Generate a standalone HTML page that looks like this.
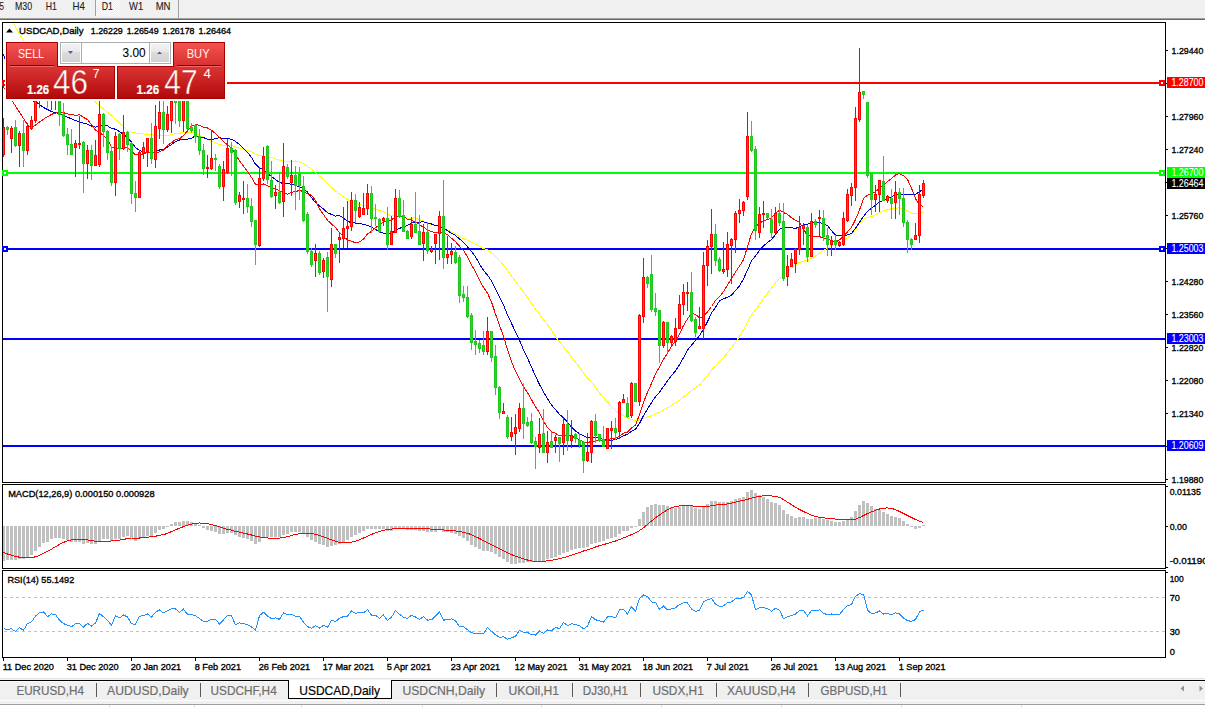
<!DOCTYPE html>
<html><head><meta charset="utf-8"><style>
html,body{margin:0;padding:0;background:#fff;}
svg{display:block;font-family:"Liberation Sans",sans-serif;}
</style></head><body>
<svg width="1205" height="708" viewBox="0 0 1205 708">
<defs>
<pattern id="chk" width="2" height="2" patternUnits="userSpaceOnUse"><rect width="2" height="2" fill="#f0f0f0"/><rect width="1" height="1" fill="#fafafa"/><rect x="1" y="1" width="1" height="1" fill="#fafafa"/></pattern>
<linearGradient id="tabg" x1="0" y1="0" x2="0" y2="1"><stop offset="0" stop-color="#f45252"/><stop offset="1" stop-color="#d83030"/></linearGradient>
<linearGradient id="prg" x1="0" y1="0" x2="0" y2="1"><stop offset="0" stop-color="#da3434"/><stop offset="1" stop-color="#b20a0a"/></linearGradient>
<linearGradient id="btg" x1="0" y1="0" x2="0" y2="1"><stop offset="0" stop-color="#f2f2f2"/><stop offset="0.45" stop-color="#e8e8e8"/><stop offset="0.46" stop-color="#dcdcdc"/><stop offset="1" stop-color="#d2d2d2"/></linearGradient>
<clipPath id="mainclip"><rect x="3" y="23" width="1162" height="459"/></clipPath>
<clipPath id="macdclip"><rect x="3" y="485" width="1162" height="83"/></clipPath>
<clipPath id="rsiclip"><rect x="3" y="571" width="1162" height="86"/></clipPath>
</defs>
<rect x="0" y="0" width="1205" height="708" fill="#ffffff"/>
<rect x="0" y="0" width="1205" height="18" fill="#f0f0f0"/>
<rect x="0" y="18" width="1205" height="1" fill="#a0a0a0"/>
<rect x="0" y="19" width="1205" height="1" fill="#696969"/>
<rect x="95" y="0" width="1" height="16" fill="#a0a0a0"/>
<rect x="178" y="0" width="1" height="18" fill="#a0a0a0"/>
<rect x="96" y="0" width="24" height="16" fill="url(#chk)"/>
<text x="-0.45" y="9.95" font-size="10.03" textLength="4.40" lengthAdjust="spacingAndGlyphs" fill="#202020" stroke="#202020" stroke-width="0.1">5</text>
<text x="15.05" y="9.95" font-size="10.03" textLength="17.10" lengthAdjust="spacingAndGlyphs" fill="#202020" stroke="#202020" stroke-width="0.1">M30</text>
<text x="45.85" y="9.95" font-size="10.03" textLength="11.10" lengthAdjust="spacingAndGlyphs" fill="#202020" stroke="#202020" stroke-width="0.1">H1</text>
<text x="72.55" y="9.95" font-size="10.03" textLength="12.40" lengthAdjust="spacingAndGlyphs" fill="#202020" stroke="#202020" stroke-width="0.1">H4</text>
<text x="101.75" y="9.95" font-size="10.03" textLength="11.20" lengthAdjust="spacingAndGlyphs" fill="#202020" stroke="#202020" stroke-width="0.1">D1</text>
<text x="129.05" y="9.95" font-size="10.03" textLength="14.10" lengthAdjust="spacingAndGlyphs" fill="#202020" stroke="#202020" stroke-width="0.1">W1</text>
<text x="155.65" y="9.95" font-size="10.03" textLength="14.90" lengthAdjust="spacingAndGlyphs" fill="#202020" stroke="#202020" stroke-width="0.1">MN</text>
<rect x="2" y="22" width="1164" height="461" fill="#000"/>
<rect x="3" y="23" width="1162" height="459" fill="#fff"/>
<rect x="2" y="484" width="1164" height="85" fill="#000"/>
<rect x="3" y="485" width="1162" height="83" fill="#fff"/>
<rect x="2" y="570" width="1164" height="88" fill="#000"/>
<rect x="3" y="571" width="1162" height="86" fill="#fff"/>
<g clip-path="url(#mainclip)">
<rect x="3" y="82" width="1162" height="2" fill="#ff0000"/>
<rect x="3" y="172" width="1162" height="2" fill="#00ff00"/>
<rect x="3" y="248" width="1162" height="2" fill="#0000ff"/>
<rect x="3" y="338" width="1162" height="2" fill="#0000ff"/>
<rect x="3" y="445" width="1162" height="2" fill="#0000ff"/>
</g>
<g clip-path="url(#mainclip)">
<polyline points="3.0,5.0 13.0,22.5 23.0,40.0 60.0,72.0 94.2,100.9 113.0,117.0 128.8,131.6 138.7,133.6 149.0,134.5 159.5,135.7 163.5,135.7 167.5,135.4 171.5,134.7 175.5,133.6 179.5,133.3 183.5,132.1 187.5,132.1 191.5,132.3 195.5,133.4 199.5,135.1 203.5,137.5 207.5,139.2 211.5,141.1 215.5,142.8 219.5,144.6 223.5,145.4 227.5,145.6 231.5,145.5 235.5,147.0 239.5,148.2 243.5,149.1 247.5,150.5 251.5,151.9 255.5,154.1 259.5,155.7 263.5,156.3 267.5,157.0 271.5,157.4 275.5,158.8 279.5,160.1 283.5,161.0 287.5,161.8 291.5,161.3 295.5,161.0 299.5,161.8 303.5,163.7 307.5,166.5 311.5,169.1 315.5,172.3 319.5,176.3 323.5,179.6 327.5,183.6 331.5,187.2 335.5,191.0 339.5,193.9 343.5,197.1 347.5,199.6 351.5,201.3 355.5,203.2 359.5,204.6 363.5,205.6 367.5,206.2 371.5,207.7 375.5,209.2 379.5,210.3 383.5,211.6 387.5,214.0 391.5,215.9 395.5,215.8 399.5,216.4 403.5,217.2 407.5,218.0 411.5,218.1 415.5,217.8 419.5,219.5 423.5,221.4 427.5,223.1 431.5,224.5 435.5,225.5 439.5,225.9 443.5,228.2 447.5,230.1 451.5,232.0 455.5,233.9 459.5,236.7 463.5,238.6 467.5,240.2 471.5,242.2 475.5,244.5 479.5,246.3 483.5,248.6 487.5,250.0 491.5,252.8 495.5,256.2 499.5,260.5 503.5,265.1 507.5,270.3 511.5,276.2 515.5,281.6 519.5,286.6 523.5,292.0 527.5,297.8 531.5,303.4 535.5,309.1 539.5,314.2 543.5,320.0 547.5,324.9 551.5,330.3 555.5,336.3 559.5,342.0 563.5,346.8 567.5,351.8 571.5,357.1 575.5,362.3 579.5,367.2 583.5,372.9 587.5,378.0 591.5,382.3 595.5,387.3 599.5,392.9 603.5,397.6 607.5,402.0 611.5,406.4 615.5,410.7 619.5,413.3 623.5,415.9 627.5,418.4 631.5,419.4 635.5,420.8 639.5,420.0 643.5,418.2 647.5,417.0 651.5,415.8 655.5,413.9 659.5,412.2 663.5,410.0 667.5,407.7 671.5,405.3 675.5,402.8 679.5,400.2 683.5,396.9 687.5,393.6 691.5,390.5 695.5,387.7 699.5,385.0 703.5,380.3 707.5,375.4 711.5,370.1 715.5,365.7 719.5,361.4 723.5,357.5 727.5,352.6 731.5,347.7 735.5,342.1 739.5,336.2 743.5,329.8 747.5,321.9 751.5,315.1 755.5,310.0 759.5,304.3 763.5,298.5 767.5,293.2 771.5,288.3 775.5,282.8 779.5,278.3 783.5,275.3 787.5,271.5 791.5,268.4 795.5,264.6 799.5,262.4 803.5,261.1 807.5,260.5 811.5,258.3 815.5,256.1 819.5,252.9 823.5,250.7 827.5,248.3 831.5,245.9 835.5,243.8 839.5,242.2 843.5,240.4 847.5,237.9 851.5,234.6 855.5,229.3 859.5,223.5 863.5,219.2 867.5,217.4 871.5,216.5 875.5,214.9 879.5,212.6 883.5,210.9 887.5,209.7 891.5,208.8 895.5,208.3 899.5,207.9 903.5,208.5 907.5,211.0 911.5,213.4 915.5,213.5 919.5,213.0 923.5,212.3" fill="none" stroke="#ffff00" stroke-width="1" shape-rendering="crispEdges"/>
<polyline points="3.0,54.0 20.0,94.0 32.4,100.7 37.0,102.6 43.4,107.5 51.8,111.7 61.0,114.2 73.0,119.6 83.5,123.1 87.5,124.2 91.5,126.0 95.5,127.2 99.5,125.8 103.5,125.7 107.5,125.8 111.5,128.4 115.5,129.2 119.5,131.7 123.5,134.2 127.5,137.5 131.5,142.0 135.5,147.4 139.5,150.4 143.5,152.0 147.5,152.1 151.5,152.8 155.5,151.5 159.5,150.0 163.5,149.3 167.5,147.0 171.5,144.6 175.5,141.6 179.5,140.0 183.5,139.3 187.5,139.1 191.5,138.1 195.5,135.9 199.5,136.6 203.5,137.6 207.5,139.3 211.5,139.9 215.5,138.3 219.5,137.8 223.5,138.5 227.5,138.6 231.5,139.2 235.5,141.4 239.5,144.6 243.5,148.7 247.5,152.4 251.5,157.4 255.5,164.2 259.5,167.8 263.5,169.5 267.5,173.3 271.5,176.5 275.5,179.5 279.5,182.6 283.5,183.4 287.5,183.8 291.5,184.1 295.5,185.4 299.5,186.7 303.5,188.3 307.5,192.2 311.5,197.7 315.5,202.5 319.5,205.9 323.5,209.0 327.5,212.7 331.5,214.5 335.5,216.1 339.5,215.7 343.5,218.1 347.5,221.5 351.5,222.5 355.5,223.1 359.5,223.8 363.5,224.1 367.5,225.4 371.5,227.4 375.5,229.4 379.5,231.6 383.5,233.2 387.5,234.4 391.5,233.5 395.5,230.3 399.5,228.5 403.5,226.6 407.5,225.5 411.5,223.0 415.5,222.5 419.5,222.1 423.5,221.8 427.5,222.9 431.5,224.0 435.5,225.7 439.5,225.9 443.5,228.3 447.5,230.5 451.5,233.3 455.5,235.4 459.5,239.0 463.5,242.2 467.5,246.8 471.5,251.5 475.5,256.8 479.5,264.0 483.5,270.4 487.5,275.1 491.5,280.8 495.5,288.6 499.5,297.1 503.5,305.1 507.5,314.8 511.5,323.4 515.5,331.9 519.5,340.2 523.5,350.0 527.5,358.0 531.5,367.0 535.5,376.2 539.5,384.5 543.5,391.9 547.5,398.8 551.5,405.0 555.5,409.6 559.5,414.3 563.5,417.9 567.5,422.2 571.5,427.1 575.5,431.0 579.5,433.7 583.5,435.9 587.5,437.9 591.5,437.2 595.5,437.4 599.5,438.0 603.5,439.8 607.5,440.1 611.5,440.2 615.5,439.7 619.5,437.6 623.5,435.9 627.5,434.2 631.5,431.4 635.5,429.3 639.5,423.5 643.5,415.6 647.5,408.9 651.5,402.6 655.5,396.7 659.5,392.3 663.5,386.5 667.5,380.9 671.5,375.4 675.5,371.0 679.5,364.7 683.5,357.7 687.5,350.3 691.5,345.1 695.5,340.6 699.5,335.5 703.5,329.0 707.5,321.7 711.5,313.1 715.5,307.2 719.5,301.0 723.5,298.8 727.5,297.2 731.5,295.1 735.5,290.5 739.5,285.8 743.5,278.9 747.5,270.1 751.5,260.9 755.5,255.8 759.5,250.4 763.5,246.0 767.5,242.5 771.5,239.6 775.5,234.5 779.5,229.3 783.5,227.0 787.5,227.1 791.5,227.7 795.5,228.4 799.5,226.8 803.5,224.7 807.5,224.1 811.5,223.0 815.5,222.2 819.5,222.4 823.5,223.7 827.5,225.6 831.5,230.6 835.5,235.1 839.5,235.7 843.5,235.9 847.5,235.0 851.5,233.6 855.5,228.2 859.5,222.4 863.5,216.4 867.5,211.4 871.5,208.3 875.5,205.2 879.5,201.9 883.5,200.6 887.5,199.2 891.5,196.6 895.5,195.3 899.5,194.0 903.5,194.3 907.5,194.5 911.5,194.5 915.5,194.2 919.5,191.8 923.5,189.0" fill="none" stroke="#0000cd" stroke-width="1" shape-rendering="crispEdges"/>
<polyline points="3.0,86.0 12.0,100.7 20.0,113.0 27.3,124.4 31.5,127.8 37.4,123.6 45.9,117.6 51.8,114.2 55.5,113.2 59.5,112.3 63.5,112.7 67.5,113.9 71.5,114.6 75.5,115.3 79.5,114.8 83.5,117.4 87.5,119.6 91.5,124.6 95.5,130.0 99.5,132.8 103.5,135.2 107.5,140.0 111.5,146.7 115.5,148.2 119.5,149.2 123.5,148.3 127.5,147.5 131.5,151.1 135.5,154.9 139.5,154.2 143.5,154.0 147.5,152.0 151.5,152.2 155.5,153.1 159.5,151.7 163.5,150.1 167.5,145.3 171.5,142.8 175.5,139.5 179.5,138.7 183.5,135.5 187.5,130.8 191.5,126.0 195.5,124.9 199.5,125.1 203.5,127.3 207.5,128.0 211.5,130.2 215.5,133.6 219.5,137.6 223.5,141.5 227.5,144.9 231.5,148.4 235.5,154.3 239.5,161.0 243.5,166.1 247.5,171.5 251.5,177.5 255.5,184.2 259.5,184.8 263.5,184.0 267.5,185.5 271.5,188.2 275.5,188.7 279.5,191.1 283.5,192.3 287.5,194.1 291.5,192.2 295.5,191.5 299.5,190.5 303.5,191.5 307.5,193.7 311.5,195.1 315.5,200.5 319.5,208.9 323.5,214.6 327.5,220.3 331.5,224.0 335.5,227.6 339.5,232.7 343.5,236.4 347.5,240.0 351.5,241.1 355.5,242.9 359.5,242.0 363.5,239.0 367.5,233.9 371.5,231.4 375.5,227.5 379.5,225.4 383.5,221.3 387.5,221.3 391.5,219.8 395.5,217.0 399.5,216.1 403.5,216.5 407.5,219.2 411.5,220.2 415.5,222.0 419.5,224.5 423.5,227.3 427.5,229.7 431.5,231.9 435.5,232.2 439.5,232.0 443.5,232.9 447.5,234.5 451.5,238.3 455.5,241.6 459.5,246.2 463.5,250.4 467.5,256.9 471.5,264.8 475.5,271.9 479.5,280.2 483.5,287.4 487.5,293.2 491.5,301.9 495.5,314.1 499.5,325.2 503.5,336.4 507.5,349.6 511.5,361.8 515.5,371.2 519.5,379.2 523.5,386.8 527.5,392.7 531.5,399.7 535.5,406.8 539.5,412.7 543.5,421.3 547.5,427.4 551.5,431.6 555.5,433.4 559.5,435.7 563.5,434.9 567.5,435.5 571.5,436.0 575.5,438.1 579.5,439.6 583.5,442.1 587.5,442.9 591.5,441.1 595.5,441.1 599.5,440.3 603.5,440.7 607.5,439.4 611.5,438.7 615.5,437.9 619.5,436.3 623.5,433.3 627.5,432.0 631.5,428.1 635.5,425.0 639.5,414.7 643.5,402.2 647.5,392.3 651.5,383.3 655.5,374.1 659.5,366.9 663.5,359.3 667.5,353.2 671.5,346.3 675.5,341.1 679.5,334.3 683.5,325.5 687.5,318.9 691.5,313.2 695.5,314.3 699.5,317.8 703.5,316.5 707.5,312.0 711.5,306.5 715.5,300.4 719.5,296.7 723.5,291.5 727.5,285.0 731.5,278.6 735.5,272.0 739.5,266.2 743.5,259.8 747.5,246.7 751.5,233.7 755.5,226.9 759.5,223.2 763.5,220.8 767.5,219.6 771.5,217.6 775.5,213.5 779.5,210.1 783.5,212.5 787.5,214.4 791.5,217.7 795.5,220.5 799.5,222.3 803.5,228.7 807.5,236.2 811.5,235.7 815.5,236.4 819.5,236.7 823.5,238.0 827.5,238.8 831.5,240.8 835.5,242.4 839.5,239.8 843.5,236.4 847.5,231.8 851.5,227.4 855.5,219.6 859.5,210.1 863.5,198.5 867.5,195.2 871.5,193.4 875.5,191.8 879.5,187.9 883.5,184.7 887.5,181.6 891.5,178.6 895.5,175.0 899.5,173.6 903.5,175.6 907.5,179.3 911.5,188.2 915.5,198.5 919.5,205.6 923.5,206.2" fill="none" stroke="#ff0000" stroke-width="1" shape-rendering="crispEdges"/>
</g>
<g clip-path="url(#mainclip)" shape-rendering="crispEdges">
<rect x="3" y="118" width="1" height="39" fill="#ff0000"/>
<rect x="2" y="127" width="3" height="28" fill="#ff0000"/>
<rect x="3" y="128" width="1" height="26" fill="#ff4500"/>
<rect x="7" y="126" width="1" height="9" fill="#2ecb2e"/>
<rect x="6" y="127" width="3" height="3" fill="#1fc71f"/>
<rect x="7" y="128" width="1" height="1" fill="#32cd32"/>
<rect x="11" y="126" width="1" height="27" fill="#ff0000"/>
<rect x="10" y="128" width="3" height="11" fill="#ff0000"/>
<rect x="11" y="129" width="1" height="9" fill="#ff4500"/>
<rect x="15" y="120" width="1" height="27" fill="#2ecb2e"/>
<rect x="14" y="127" width="3" height="19" fill="#1fc71f"/>
<rect x="15" y="128" width="1" height="17" fill="#32cd32"/>
<rect x="19" y="131" width="1" height="36" fill="#ff0000"/>
<rect x="18" y="133" width="3" height="13" fill="#ff0000"/>
<rect x="19" y="134" width="1" height="11" fill="#ff4500"/>
<rect x="23" y="120" width="1" height="47" fill="#2ecb2e"/>
<rect x="22" y="133" width="3" height="18" fill="#1fc71f"/>
<rect x="23" y="134" width="1" height="16" fill="#32cd32"/>
<rect x="27" y="123" width="1" height="32" fill="#ff0000"/>
<rect x="26" y="126" width="3" height="25" fill="#ff0000"/>
<rect x="27" y="127" width="1" height="23" fill="#ff4500"/>
<rect x="31" y="116" width="1" height="14" fill="#ff0000"/>
<rect x="30" y="120" width="3" height="9" fill="#ff0000"/>
<rect x="31" y="121" width="1" height="7" fill="#ff4500"/>
<rect x="35" y="90" width="1" height="33" fill="#ff0000"/>
<rect x="34" y="95" width="3" height="26" fill="#ff0000"/>
<rect x="35" y="96" width="1" height="24" fill="#ff4500"/>
<rect x="39" y="75" width="1" height="33" fill="#ff0000"/>
<rect x="38" y="80" width="3" height="16" fill="#ff0000"/>
<rect x="39" y="81" width="1" height="14" fill="#ff4500"/>
<rect x="43" y="70" width="1" height="26" fill="#ff0000"/>
<rect x="42" y="75" width="3" height="16" fill="#ff0000"/>
<rect x="43" y="76" width="1" height="14" fill="#ff4500"/>
<rect x="47" y="72" width="1" height="36" fill="#2ecb2e"/>
<rect x="46" y="78" width="3" height="20" fill="#1fc71f"/>
<rect x="47" y="79" width="1" height="18" fill="#32cd32"/>
<rect x="51" y="80" width="1" height="30" fill="#ff0000"/>
<rect x="50" y="85" width="3" height="14" fill="#ff0000"/>
<rect x="51" y="86" width="1" height="12" fill="#ff4500"/>
<rect x="55" y="80" width="1" height="30" fill="#ff0000"/>
<rect x="54" y="88" width="3" height="10" fill="#ff0000"/>
<rect x="55" y="89" width="1" height="8" fill="#ff4500"/>
<rect x="59" y="85" width="1" height="41" fill="#2ecb2e"/>
<rect x="58" y="90" width="3" height="25" fill="#1fc71f"/>
<rect x="59" y="91" width="1" height="23" fill="#32cd32"/>
<rect x="63" y="103" width="1" height="34" fill="#2ecb2e"/>
<rect x="62" y="114" width="3" height="22" fill="#1fc71f"/>
<rect x="63" y="115" width="1" height="20" fill="#32cd32"/>
<rect x="67" y="128" width="1" height="27" fill="#2ecb2e"/>
<rect x="66" y="134" width="3" height="11" fill="#1fc71f"/>
<rect x="67" y="135" width="1" height="9" fill="#32cd32"/>
<rect x="71" y="129" width="1" height="26" fill="#2ecb2e"/>
<rect x="70" y="144" width="3" height="11" fill="#1fc71f"/>
<rect x="71" y="145" width="1" height="9" fill="#32cd32"/>
<rect x="75" y="140" width="1" height="37" fill="#ff0000"/>
<rect x="74" y="143" width="3" height="5" fill="#ff0000"/>
<rect x="75" y="144" width="1" height="3" fill="#ff4500"/>
<rect x="79" y="116" width="1" height="33" fill="#ff0000"/>
<rect x="78" y="143" width="3" height="2" fill="#ff0000"/>
<rect x="83" y="141" width="1" height="52" fill="#2ecb2e"/>
<rect x="82" y="142" width="3" height="22" fill="#1fc71f"/>
<rect x="83" y="143" width="1" height="20" fill="#32cd32"/>
<rect x="87" y="145" width="1" height="34" fill="#ff0000"/>
<rect x="86" y="150" width="3" height="14" fill="#ff0000"/>
<rect x="87" y="151" width="1" height="12" fill="#ff4500"/>
<rect x="91" y="145" width="1" height="35" fill="#2ecb2e"/>
<rect x="90" y="150" width="3" height="16" fill="#1fc71f"/>
<rect x="91" y="151" width="1" height="14" fill="#32cd32"/>
<rect x="95" y="140" width="1" height="26" fill="#ff0000"/>
<rect x="94" y="155" width="3" height="11" fill="#ff0000"/>
<rect x="95" y="156" width="1" height="9" fill="#ff4500"/>
<rect x="99" y="101" width="1" height="66" fill="#ff0000"/>
<rect x="98" y="114" width="3" height="51" fill="#ff0000"/>
<rect x="99" y="115" width="1" height="49" fill="#ff4500"/>
<rect x="103" y="113" width="1" height="34" fill="#2ecb2e"/>
<rect x="102" y="114" width="3" height="18" fill="#1fc71f"/>
<rect x="103" y="115" width="1" height="16" fill="#32cd32"/>
<rect x="107" y="130" width="1" height="30" fill="#2ecb2e"/>
<rect x="106" y="131" width="3" height="22" fill="#1fc71f"/>
<rect x="107" y="132" width="1" height="20" fill="#32cd32"/>
<rect x="111" y="146" width="1" height="40" fill="#2ecb2e"/>
<rect x="110" y="151" width="3" height="32" fill="#1fc71f"/>
<rect x="111" y="152" width="1" height="30" fill="#32cd32"/>
<rect x="115" y="132" width="1" height="64" fill="#ff0000"/>
<rect x="114" y="136" width="3" height="47" fill="#ff0000"/>
<rect x="115" y="137" width="1" height="45" fill="#ff4500"/>
<rect x="119" y="133" width="1" height="27" fill="#2ecb2e"/>
<rect x="118" y="134" width="3" height="15" fill="#1fc71f"/>
<rect x="119" y="135" width="1" height="13" fill="#32cd32"/>
<rect x="123" y="115" width="1" height="35" fill="#ff0000"/>
<rect x="122" y="132" width="3" height="17" fill="#ff0000"/>
<rect x="123" y="133" width="1" height="15" fill="#ff4500"/>
<rect x="127" y="131" width="1" height="21" fill="#2ecb2e"/>
<rect x="126" y="132" width="3" height="13" fill="#1fc71f"/>
<rect x="127" y="133" width="1" height="11" fill="#32cd32"/>
<rect x="131" y="142" width="1" height="62" fill="#2ecb2e"/>
<rect x="130" y="143" width="3" height="51" fill="#1fc71f"/>
<rect x="131" y="144" width="1" height="49" fill="#32cd32"/>
<rect x="135" y="181" width="1" height="31" fill="#2ecb2e"/>
<rect x="134" y="193" width="3" height="5" fill="#1fc71f"/>
<rect x="135" y="194" width="1" height="3" fill="#32cd32"/>
<rect x="139" y="150" width="1" height="48" fill="#ff0000"/>
<rect x="138" y="152" width="3" height="46" fill="#ff0000"/>
<rect x="139" y="153" width="1" height="44" fill="#ff4500"/>
<rect x="143" y="142" width="1" height="17" fill="#ff0000"/>
<rect x="142" y="147" width="3" height="7" fill="#ff0000"/>
<rect x="143" y="148" width="1" height="5" fill="#ff4500"/>
<rect x="147" y="138" width="1" height="29" fill="#ff0000"/>
<rect x="146" y="138" width="3" height="14" fill="#ff0000"/>
<rect x="147" y="139" width="1" height="12" fill="#ff4500"/>
<rect x="151" y="123" width="1" height="41" fill="#2ecb2e"/>
<rect x="150" y="138" width="3" height="21" fill="#1fc71f"/>
<rect x="151" y="139" width="1" height="19" fill="#32cd32"/>
<rect x="155" y="105" width="1" height="63" fill="#ff0000"/>
<rect x="154" y="126" width="3" height="34" fill="#ff0000"/>
<rect x="155" y="127" width="1" height="32" fill="#ff4500"/>
<rect x="159" y="101" width="1" height="38" fill="#ff0000"/>
<rect x="158" y="112" width="3" height="17" fill="#ff0000"/>
<rect x="159" y="113" width="1" height="15" fill="#ff4500"/>
<rect x="163" y="101" width="1" height="43" fill="#2ecb2e"/>
<rect x="162" y="112" width="3" height="18" fill="#1fc71f"/>
<rect x="163" y="113" width="1" height="16" fill="#32cd32"/>
<rect x="167" y="106" width="1" height="26" fill="#ff0000"/>
<rect x="166" y="114" width="3" height="16" fill="#ff0000"/>
<rect x="167" y="115" width="1" height="14" fill="#ff4500"/>
<rect x="171" y="90" width="1" height="43" fill="#ff0000"/>
<rect x="170" y="101" width="3" height="20" fill="#ff0000"/>
<rect x="171" y="102" width="1" height="18" fill="#ff4500"/>
<rect x="175" y="85" width="1" height="39" fill="#2ecb2e"/>
<rect x="174" y="100" width="3" height="3" fill="#1fc71f"/>
<rect x="175" y="101" width="1" height="1" fill="#32cd32"/>
<rect x="179" y="90" width="1" height="37" fill="#2ecb2e"/>
<rect x="178" y="100" width="3" height="21" fill="#1fc71f"/>
<rect x="179" y="101" width="1" height="19" fill="#32cd32"/>
<rect x="183" y="85" width="1" height="47" fill="#ff0000"/>
<rect x="182" y="100" width="3" height="21" fill="#ff0000"/>
<rect x="183" y="101" width="1" height="19" fill="#ff4500"/>
<rect x="187" y="90" width="1" height="40" fill="#2ecb2e"/>
<rect x="186" y="95" width="3" height="34" fill="#1fc71f"/>
<rect x="187" y="96" width="1" height="32" fill="#32cd32"/>
<rect x="191" y="123" width="1" height="10" fill="#2ecb2e"/>
<rect x="190" y="127" width="3" height="4" fill="#1fc71f"/>
<rect x="191" y="128" width="1" height="2" fill="#32cd32"/>
<rect x="195" y="124" width="1" height="19" fill="#2ecb2e"/>
<rect x="194" y="125" width="3" height="12" fill="#1fc71f"/>
<rect x="195" y="126" width="1" height="10" fill="#32cd32"/>
<rect x="199" y="129" width="1" height="26" fill="#2ecb2e"/>
<rect x="198" y="136" width="3" height="15" fill="#1fc71f"/>
<rect x="199" y="137" width="1" height="13" fill="#32cd32"/>
<rect x="203" y="144" width="1" height="31" fill="#2ecb2e"/>
<rect x="202" y="150" width="3" height="19" fill="#1fc71f"/>
<rect x="203" y="151" width="1" height="17" fill="#32cd32"/>
<rect x="207" y="155" width="1" height="23" fill="#ff0000"/>
<rect x="206" y="167" width="3" height="2" fill="#ff0000"/>
<rect x="211" y="131" width="1" height="39" fill="#ff0000"/>
<rect x="210" y="158" width="3" height="11" fill="#ff0000"/>
<rect x="211" y="159" width="1" height="9" fill="#ff4500"/>
<rect x="215" y="154" width="1" height="17" fill="#2ecb2e"/>
<rect x="214" y="158" width="3" height="2" fill="#1fc71f"/>
<rect x="219" y="164" width="1" height="25" fill="#2ecb2e"/>
<rect x="218" y="166" width="3" height="21" fill="#1fc71f"/>
<rect x="219" y="167" width="1" height="19" fill="#32cd32"/>
<rect x="223" y="161" width="1" height="40" fill="#ff0000"/>
<rect x="222" y="169" width="3" height="18" fill="#ff0000"/>
<rect x="223" y="170" width="1" height="16" fill="#ff4500"/>
<rect x="227" y="139" width="1" height="35" fill="#ff0000"/>
<rect x="226" y="148" width="3" height="25" fill="#ff0000"/>
<rect x="227" y="149" width="1" height="23" fill="#ff4500"/>
<rect x="231" y="142" width="1" height="34" fill="#2ecb2e"/>
<rect x="230" y="148" width="3" height="5" fill="#1fc71f"/>
<rect x="231" y="149" width="1" height="3" fill="#32cd32"/>
<rect x="235" y="149" width="1" height="56" fill="#2ecb2e"/>
<rect x="234" y="150" width="3" height="53" fill="#1fc71f"/>
<rect x="235" y="151" width="1" height="51" fill="#32cd32"/>
<rect x="239" y="192" width="1" height="16" fill="#ff0000"/>
<rect x="238" y="195" width="3" height="7" fill="#ff0000"/>
<rect x="239" y="196" width="1" height="5" fill="#ff4500"/>
<rect x="243" y="181" width="1" height="33" fill="#ff0000"/>
<rect x="242" y="198" width="3" height="2" fill="#ff0000"/>
<rect x="247" y="184" width="1" height="29" fill="#2ecb2e"/>
<rect x="246" y="198" width="3" height="9" fill="#1fc71f"/>
<rect x="247" y="199" width="1" height="7" fill="#32cd32"/>
<rect x="251" y="198" width="1" height="29" fill="#2ecb2e"/>
<rect x="250" y="206" width="3" height="16" fill="#1fc71f"/>
<rect x="251" y="207" width="1" height="14" fill="#32cd32"/>
<rect x="255" y="220" width="1" height="45" fill="#2ecb2e"/>
<rect x="254" y="220" width="3" height="25" fill="#1fc71f"/>
<rect x="255" y="221" width="1" height="23" fill="#32cd32"/>
<rect x="259" y="167" width="1" height="80" fill="#ff0000"/>
<rect x="258" y="178" width="3" height="68" fill="#ff0000"/>
<rect x="259" y="179" width="1" height="66" fill="#ff4500"/>
<rect x="263" y="147" width="1" height="34" fill="#ff0000"/>
<rect x="262" y="156" width="3" height="23" fill="#ff0000"/>
<rect x="263" y="157" width="1" height="21" fill="#ff4500"/>
<rect x="267" y="145" width="1" height="39" fill="#2ecb2e"/>
<rect x="266" y="146" width="3" height="34" fill="#1fc71f"/>
<rect x="267" y="147" width="1" height="32" fill="#32cd32"/>
<rect x="271" y="161" width="1" height="37" fill="#2ecb2e"/>
<rect x="270" y="180" width="3" height="17" fill="#1fc71f"/>
<rect x="271" y="181" width="1" height="15" fill="#32cd32"/>
<rect x="275" y="185" width="1" height="24" fill="#ff0000"/>
<rect x="274" y="192" width="3" height="4" fill="#ff0000"/>
<rect x="275" y="193" width="1" height="2" fill="#ff4500"/>
<rect x="279" y="172" width="1" height="32" fill="#2ecb2e"/>
<rect x="278" y="192" width="3" height="11" fill="#1fc71f"/>
<rect x="279" y="193" width="1" height="9" fill="#32cd32"/>
<rect x="283" y="143" width="1" height="74" fill="#ff0000"/>
<rect x="282" y="166" width="3" height="36" fill="#ff0000"/>
<rect x="283" y="167" width="1" height="34" fill="#ff4500"/>
<rect x="287" y="164" width="1" height="15" fill="#2ecb2e"/>
<rect x="286" y="167" width="3" height="10" fill="#1fc71f"/>
<rect x="287" y="168" width="1" height="8" fill="#32cd32"/>
<rect x="291" y="160" width="1" height="36" fill="#ff0000"/>
<rect x="290" y="175" width="3" height="8" fill="#ff0000"/>
<rect x="291" y="176" width="1" height="6" fill="#ff4500"/>
<rect x="295" y="166" width="1" height="44" fill="#2ecb2e"/>
<rect x="294" y="175" width="3" height="11" fill="#1fc71f"/>
<rect x="295" y="176" width="1" height="9" fill="#32cd32"/>
<rect x="299" y="167" width="1" height="33" fill="#2ecb2e"/>
<rect x="298" y="174" width="3" height="12" fill="#1fc71f"/>
<rect x="299" y="175" width="1" height="10" fill="#32cd32"/>
<rect x="303" y="176" width="1" height="46" fill="#2ecb2e"/>
<rect x="302" y="186" width="3" height="35" fill="#1fc71f"/>
<rect x="303" y="187" width="1" height="33" fill="#32cd32"/>
<rect x="307" y="212" width="1" height="42" fill="#2ecb2e"/>
<rect x="306" y="214" width="3" height="38" fill="#1fc71f"/>
<rect x="307" y="215" width="1" height="36" fill="#32cd32"/>
<rect x="311" y="248" width="1" height="19" fill="#2ecb2e"/>
<rect x="310" y="251" width="3" height="14" fill="#1fc71f"/>
<rect x="311" y="252" width="1" height="12" fill="#32cd32"/>
<rect x="315" y="244" width="1" height="33" fill="#ff0000"/>
<rect x="314" y="253" width="3" height="8" fill="#ff0000"/>
<rect x="315" y="254" width="1" height="6" fill="#ff4500"/>
<rect x="319" y="251" width="1" height="24" fill="#2ecb2e"/>
<rect x="318" y="253" width="3" height="20" fill="#1fc71f"/>
<rect x="319" y="254" width="1" height="18" fill="#32cd32"/>
<rect x="323" y="258" width="1" height="20" fill="#ff0000"/>
<rect x="322" y="260" width="3" height="12" fill="#ff0000"/>
<rect x="323" y="261" width="1" height="10" fill="#ff4500"/>
<rect x="327" y="252" width="1" height="60" fill="#2ecb2e"/>
<rect x="326" y="257" width="3" height="20" fill="#1fc71f"/>
<rect x="327" y="258" width="1" height="18" fill="#32cd32"/>
<rect x="331" y="228" width="1" height="59" fill="#ff0000"/>
<rect x="330" y="244" width="3" height="36" fill="#ff0000"/>
<rect x="331" y="245" width="1" height="34" fill="#ff4500"/>
<rect x="335" y="244" width="1" height="14" fill="#2ecb2e"/>
<rect x="334" y="244" width="3" height="10" fill="#1fc71f"/>
<rect x="335" y="245" width="1" height="8" fill="#32cd32"/>
<rect x="339" y="232" width="1" height="31" fill="#ff0000"/>
<rect x="338" y="237" width="3" height="3" fill="#ff0000"/>
<rect x="339" y="238" width="1" height="1" fill="#ff4500"/>
<rect x="343" y="207" width="1" height="41" fill="#ff0000"/>
<rect x="342" y="228" width="3" height="11" fill="#ff0000"/>
<rect x="343" y="229" width="1" height="9" fill="#ff4500"/>
<rect x="347" y="201" width="1" height="47" fill="#ff0000"/>
<rect x="346" y="226" width="3" height="3" fill="#ff0000"/>
<rect x="347" y="227" width="1" height="1" fill="#ff4500"/>
<rect x="351" y="192" width="1" height="39" fill="#ff0000"/>
<rect x="350" y="200" width="3" height="27" fill="#ff0000"/>
<rect x="351" y="201" width="1" height="25" fill="#ff4500"/>
<rect x="355" y="194" width="1" height="29" fill="#2ecb2e"/>
<rect x="354" y="200" width="3" height="11" fill="#1fc71f"/>
<rect x="355" y="201" width="1" height="9" fill="#32cd32"/>
<rect x="359" y="202" width="1" height="16" fill="#ff0000"/>
<rect x="358" y="207" width="3" height="10" fill="#ff0000"/>
<rect x="359" y="208" width="1" height="8" fill="#ff4500"/>
<rect x="363" y="193" width="1" height="22" fill="#ff0000"/>
<rect x="362" y="208" width="3" height="7" fill="#ff0000"/>
<rect x="363" y="209" width="1" height="5" fill="#ff4500"/>
<rect x="367" y="184" width="1" height="31" fill="#ff0000"/>
<rect x="366" y="193" width="3" height="16" fill="#ff0000"/>
<rect x="367" y="194" width="1" height="14" fill="#ff4500"/>
<rect x="371" y="186" width="1" height="47" fill="#2ecb2e"/>
<rect x="370" y="193" width="3" height="26" fill="#1fc71f"/>
<rect x="371" y="194" width="1" height="24" fill="#32cd32"/>
<rect x="375" y="204" width="1" height="22" fill="#2ecb2e"/>
<rect x="374" y="217" width="3" height="2" fill="#1fc71f"/>
<rect x="379" y="218" width="1" height="15" fill="#2ecb2e"/>
<rect x="378" y="219" width="3" height="13" fill="#1fc71f"/>
<rect x="379" y="220" width="1" height="11" fill="#32cd32"/>
<rect x="383" y="217" width="1" height="9" fill="#ff0000"/>
<rect x="382" y="218" width="3" height="3" fill="#ff0000"/>
<rect x="383" y="219" width="1" height="1" fill="#ff4500"/>
<rect x="387" y="207" width="1" height="43" fill="#2ecb2e"/>
<rect x="386" y="218" width="3" height="27" fill="#1fc71f"/>
<rect x="387" y="219" width="1" height="25" fill="#32cd32"/>
<rect x="391" y="216" width="1" height="29" fill="#ff0000"/>
<rect x="390" y="231" width="3" height="14" fill="#ff0000"/>
<rect x="391" y="232" width="1" height="12" fill="#ff4500"/>
<rect x="395" y="189" width="1" height="44" fill="#ff0000"/>
<rect x="394" y="198" width="3" height="35" fill="#ff0000"/>
<rect x="395" y="199" width="1" height="33" fill="#ff4500"/>
<rect x="399" y="190" width="1" height="28" fill="#2ecb2e"/>
<rect x="398" y="198" width="3" height="19" fill="#1fc71f"/>
<rect x="399" y="199" width="1" height="17" fill="#32cd32"/>
<rect x="403" y="200" width="1" height="32" fill="#2ecb2e"/>
<rect x="402" y="215" width="3" height="17" fill="#1fc71f"/>
<rect x="403" y="216" width="1" height="15" fill="#32cd32"/>
<rect x="407" y="230" width="1" height="9" fill="#2ecb2e"/>
<rect x="406" y="231" width="3" height="8" fill="#1fc71f"/>
<rect x="407" y="232" width="1" height="6" fill="#32cd32"/>
<rect x="411" y="217" width="1" height="22" fill="#ff0000"/>
<rect x="410" y="224" width="3" height="13" fill="#ff0000"/>
<rect x="411" y="225" width="1" height="11" fill="#ff4500"/>
<rect x="415" y="192" width="1" height="41" fill="#2ecb2e"/>
<rect x="414" y="224" width="3" height="9" fill="#1fc71f"/>
<rect x="415" y="225" width="1" height="7" fill="#32cd32"/>
<rect x="419" y="215" width="1" height="30" fill="#2ecb2e"/>
<rect x="418" y="231" width="3" height="14" fill="#1fc71f"/>
<rect x="419" y="232" width="1" height="12" fill="#32cd32"/>
<rect x="423" y="224" width="1" height="37" fill="#ff0000"/>
<rect x="422" y="232" width="3" height="12" fill="#ff0000"/>
<rect x="423" y="233" width="1" height="10" fill="#ff4500"/>
<rect x="427" y="222" width="1" height="32" fill="#2ecb2e"/>
<rect x="426" y="232" width="3" height="19" fill="#1fc71f"/>
<rect x="427" y="233" width="1" height="17" fill="#32cd32"/>
<rect x="431" y="246" width="1" height="7" fill="#ff0000"/>
<rect x="430" y="249" width="3" height="3" fill="#ff0000"/>
<rect x="431" y="250" width="1" height="1" fill="#ff4500"/>
<rect x="435" y="234" width="1" height="30" fill="#ff0000"/>
<rect x="434" y="234" width="3" height="10" fill="#ff0000"/>
<rect x="435" y="235" width="1" height="8" fill="#ff4500"/>
<rect x="439" y="211" width="1" height="49" fill="#ff0000"/>
<rect x="438" y="216" width="3" height="18" fill="#ff0000"/>
<rect x="439" y="217" width="1" height="16" fill="#ff4500"/>
<rect x="443" y="180" width="1" height="89" fill="#2ecb2e"/>
<rect x="442" y="216" width="3" height="42" fill="#1fc71f"/>
<rect x="443" y="217" width="1" height="40" fill="#32cd32"/>
<rect x="447" y="236" width="1" height="28" fill="#ff0000"/>
<rect x="446" y="254" width="3" height="4" fill="#ff0000"/>
<rect x="447" y="255" width="1" height="2" fill="#ff4500"/>
<rect x="451" y="243" width="1" height="21" fill="#ff0000"/>
<rect x="450" y="251" width="3" height="4" fill="#ff0000"/>
<rect x="451" y="252" width="1" height="2" fill="#ff4500"/>
<rect x="455" y="246" width="1" height="18" fill="#2ecb2e"/>
<rect x="454" y="252" width="3" height="11" fill="#1fc71f"/>
<rect x="455" y="253" width="1" height="9" fill="#32cd32"/>
<rect x="459" y="255" width="1" height="48" fill="#2ecb2e"/>
<rect x="458" y="257" width="3" height="39" fill="#1fc71f"/>
<rect x="459" y="258" width="1" height="37" fill="#32cd32"/>
<rect x="463" y="286" width="1" height="16" fill="#2ecb2e"/>
<rect x="462" y="294" width="3" height="4" fill="#1fc71f"/>
<rect x="463" y="295" width="1" height="2" fill="#32cd32"/>
<rect x="467" y="286" width="1" height="32" fill="#2ecb2e"/>
<rect x="466" y="297" width="3" height="20" fill="#1fc71f"/>
<rect x="467" y="298" width="1" height="18" fill="#32cd32"/>
<rect x="471" y="313" width="1" height="37" fill="#2ecb2e"/>
<rect x="470" y="315" width="3" height="28" fill="#1fc71f"/>
<rect x="471" y="316" width="1" height="26" fill="#32cd32"/>
<rect x="475" y="330" width="1" height="25" fill="#2ecb2e"/>
<rect x="474" y="341" width="3" height="4" fill="#1fc71f"/>
<rect x="475" y="342" width="1" height="2" fill="#32cd32"/>
<rect x="479" y="340" width="1" height="13" fill="#2ecb2e"/>
<rect x="478" y="343" width="3" height="6" fill="#1fc71f"/>
<rect x="479" y="344" width="1" height="4" fill="#32cd32"/>
<rect x="483" y="331" width="1" height="24" fill="#2ecb2e"/>
<rect x="482" y="345" width="3" height="7" fill="#1fc71f"/>
<rect x="483" y="346" width="1" height="5" fill="#32cd32"/>
<rect x="487" y="317" width="1" height="38" fill="#ff0000"/>
<rect x="486" y="331" width="3" height="21" fill="#ff0000"/>
<rect x="487" y="332" width="1" height="19" fill="#ff4500"/>
<rect x="491" y="331" width="1" height="31" fill="#2ecb2e"/>
<rect x="490" y="331" width="3" height="27" fill="#1fc71f"/>
<rect x="491" y="332" width="1" height="25" fill="#32cd32"/>
<rect x="495" y="345" width="1" height="50" fill="#2ecb2e"/>
<rect x="494" y="356" width="3" height="32" fill="#1fc71f"/>
<rect x="495" y="357" width="1" height="30" fill="#32cd32"/>
<rect x="499" y="386" width="1" height="33" fill="#2ecb2e"/>
<rect x="498" y="387" width="3" height="26" fill="#1fc71f"/>
<rect x="499" y="388" width="1" height="24" fill="#32cd32"/>
<rect x="503" y="403" width="1" height="11" fill="#ff0000"/>
<rect x="502" y="411" width="3" height="3" fill="#ff0000"/>
<rect x="503" y="412" width="1" height="1" fill="#ff4500"/>
<rect x="507" y="415" width="1" height="24" fill="#2ecb2e"/>
<rect x="506" y="417" width="3" height="20" fill="#1fc71f"/>
<rect x="507" y="418" width="1" height="18" fill="#32cd32"/>
<rect x="511" y="417" width="1" height="24" fill="#ff0000"/>
<rect x="510" y="432" width="3" height="5" fill="#ff0000"/>
<rect x="511" y="433" width="1" height="3" fill="#ff4500"/>
<rect x="515" y="414" width="1" height="41" fill="#ff0000"/>
<rect x="514" y="427" width="3" height="7" fill="#ff0000"/>
<rect x="515" y="428" width="1" height="5" fill="#ff4500"/>
<rect x="519" y="403" width="1" height="29" fill="#ff0000"/>
<rect x="518" y="408" width="3" height="21" fill="#ff0000"/>
<rect x="519" y="409" width="1" height="19" fill="#ff4500"/>
<rect x="523" y="383" width="1" height="56" fill="#2ecb2e"/>
<rect x="522" y="408" width="3" height="16" fill="#1fc71f"/>
<rect x="523" y="409" width="1" height="14" fill="#32cd32"/>
<rect x="527" y="417" width="1" height="10" fill="#2ecb2e"/>
<rect x="526" y="422" width="3" height="4" fill="#1fc71f"/>
<rect x="527" y="423" width="1" height="2" fill="#32cd32"/>
<rect x="531" y="413" width="1" height="31" fill="#2ecb2e"/>
<rect x="530" y="421" width="3" height="22" fill="#1fc71f"/>
<rect x="531" y="422" width="1" height="20" fill="#32cd32"/>
<rect x="535" y="437" width="1" height="32" fill="#2ecb2e"/>
<rect x="534" y="441" width="3" height="6" fill="#1fc71f"/>
<rect x="535" y="442" width="1" height="4" fill="#32cd32"/>
<rect x="539" y="418" width="1" height="35" fill="#ff0000"/>
<rect x="538" y="434" width="3" height="14" fill="#ff0000"/>
<rect x="539" y="435" width="1" height="12" fill="#ff4500"/>
<rect x="543" y="409" width="1" height="44" fill="#2ecb2e"/>
<rect x="542" y="433" width="3" height="20" fill="#1fc71f"/>
<rect x="543" y="434" width="1" height="18" fill="#32cd32"/>
<rect x="547" y="431" width="1" height="32" fill="#ff0000"/>
<rect x="546" y="442" width="3" height="11" fill="#ff0000"/>
<rect x="547" y="443" width="1" height="9" fill="#ff4500"/>
<rect x="551" y="432" width="1" height="16" fill="#2ecb2e"/>
<rect x="550" y="441" width="3" height="7" fill="#1fc71f"/>
<rect x="551" y="442" width="1" height="5" fill="#32cd32"/>
<rect x="555" y="435" width="1" height="18" fill="#ff0000"/>
<rect x="554" y="437" width="3" height="4" fill="#ff0000"/>
<rect x="555" y="438" width="1" height="2" fill="#ff4500"/>
<rect x="559" y="437" width="1" height="25" fill="#2ecb2e"/>
<rect x="558" y="437" width="3" height="7" fill="#1fc71f"/>
<rect x="559" y="438" width="1" height="5" fill="#32cd32"/>
<rect x="563" y="418" width="1" height="37" fill="#ff0000"/>
<rect x="562" y="424" width="3" height="19" fill="#ff0000"/>
<rect x="563" y="425" width="1" height="17" fill="#ff4500"/>
<rect x="567" y="410" width="1" height="41" fill="#2ecb2e"/>
<rect x="566" y="424" width="3" height="17" fill="#1fc71f"/>
<rect x="567" y="425" width="1" height="15" fill="#32cd32"/>
<rect x="571" y="420" width="1" height="28" fill="#ff0000"/>
<rect x="570" y="435" width="3" height="6" fill="#ff0000"/>
<rect x="571" y="436" width="1" height="4" fill="#ff4500"/>
<rect x="575" y="433" width="1" height="10" fill="#2ecb2e"/>
<rect x="574" y="434" width="3" height="5" fill="#1fc71f"/>
<rect x="575" y="435" width="1" height="3" fill="#32cd32"/>
<rect x="579" y="433" width="1" height="15" fill="#2ecb2e"/>
<rect x="578" y="440" width="3" height="5" fill="#1fc71f"/>
<rect x="579" y="441" width="1" height="3" fill="#32cd32"/>
<rect x="583" y="441" width="1" height="32" fill="#2ecb2e"/>
<rect x="582" y="442" width="3" height="19" fill="#1fc71f"/>
<rect x="583" y="443" width="1" height="17" fill="#32cd32"/>
<rect x="587" y="433" width="1" height="29" fill="#ff0000"/>
<rect x="586" y="452" width="3" height="9" fill="#ff0000"/>
<rect x="587" y="453" width="1" height="7" fill="#ff4500"/>
<rect x="591" y="420" width="1" height="43" fill="#ff0000"/>
<rect x="590" y="421" width="3" height="32" fill="#ff0000"/>
<rect x="591" y="422" width="1" height="30" fill="#ff4500"/>
<rect x="595" y="414" width="1" height="29" fill="#2ecb2e"/>
<rect x="594" y="421" width="3" height="15" fill="#1fc71f"/>
<rect x="595" y="422" width="1" height="13" fill="#32cd32"/>
<rect x="599" y="434" width="1" height="8" fill="#2ecb2e"/>
<rect x="598" y="434" width="3" height="7" fill="#1fc71f"/>
<rect x="599" y="435" width="1" height="5" fill="#32cd32"/>
<rect x="603" y="426" width="1" height="21" fill="#2ecb2e"/>
<rect x="602" y="439" width="3" height="8" fill="#1fc71f"/>
<rect x="603" y="440" width="1" height="6" fill="#32cd32"/>
<rect x="607" y="428" width="1" height="21" fill="#ff0000"/>
<rect x="606" y="428" width="3" height="21" fill="#ff0000"/>
<rect x="607" y="429" width="1" height="19" fill="#ff4500"/>
<rect x="611" y="421" width="1" height="28" fill="#ff0000"/>
<rect x="610" y="428" width="3" height="3" fill="#ff0000"/>
<rect x="611" y="429" width="1" height="1" fill="#ff4500"/>
<rect x="615" y="418" width="1" height="22" fill="#2ecb2e"/>
<rect x="614" y="428" width="3" height="5" fill="#1fc71f"/>
<rect x="615" y="429" width="1" height="3" fill="#32cd32"/>
<rect x="619" y="401" width="1" height="38" fill="#ff0000"/>
<rect x="618" y="402" width="3" height="30" fill="#ff0000"/>
<rect x="619" y="403" width="1" height="28" fill="#ff4500"/>
<rect x="623" y="394" width="1" height="9" fill="#ff0000"/>
<rect x="622" y="399" width="3" height="4" fill="#ff0000"/>
<rect x="623" y="400" width="1" height="2" fill="#ff4500"/>
<rect x="627" y="397" width="1" height="21" fill="#2ecb2e"/>
<rect x="626" y="403" width="3" height="14" fill="#1fc71f"/>
<rect x="627" y="404" width="1" height="12" fill="#32cd32"/>
<rect x="631" y="382" width="1" height="36" fill="#ff0000"/>
<rect x="630" y="383" width="3" height="33" fill="#ff0000"/>
<rect x="631" y="384" width="1" height="31" fill="#ff4500"/>
<rect x="635" y="383" width="1" height="19" fill="#2ecb2e"/>
<rect x="634" y="383" width="3" height="19" fill="#1fc71f"/>
<rect x="635" y="384" width="1" height="17" fill="#32cd32"/>
<rect x="639" y="314" width="1" height="92" fill="#ff0000"/>
<rect x="638" y="315" width="3" height="87" fill="#ff0000"/>
<rect x="639" y="316" width="1" height="85" fill="#ff4500"/>
<rect x="643" y="258" width="1" height="65" fill="#ff0000"/>
<rect x="642" y="277" width="3" height="40" fill="#ff0000"/>
<rect x="643" y="278" width="1" height="38" fill="#ff4500"/>
<rect x="647" y="276" width="1" height="12" fill="#2ecb2e"/>
<rect x="646" y="277" width="3" height="7" fill="#1fc71f"/>
<rect x="647" y="278" width="1" height="5" fill="#32cd32"/>
<rect x="651" y="255" width="1" height="57" fill="#2ecb2e"/>
<rect x="650" y="274" width="3" height="36" fill="#1fc71f"/>
<rect x="651" y="275" width="1" height="34" fill="#32cd32"/>
<rect x="655" y="293" width="1" height="23" fill="#2ecb2e"/>
<rect x="654" y="308" width="3" height="4" fill="#1fc71f"/>
<rect x="655" y="309" width="1" height="2" fill="#32cd32"/>
<rect x="659" y="310" width="1" height="53" fill="#2ecb2e"/>
<rect x="658" y="310" width="3" height="36" fill="#1fc71f"/>
<rect x="659" y="311" width="1" height="34" fill="#32cd32"/>
<rect x="663" y="321" width="1" height="27" fill="#ff0000"/>
<rect x="662" y="322" width="3" height="24" fill="#ff0000"/>
<rect x="663" y="323" width="1" height="22" fill="#ff4500"/>
<rect x="667" y="322" width="1" height="31" fill="#2ecb2e"/>
<rect x="666" y="322" width="3" height="21" fill="#1fc71f"/>
<rect x="667" y="323" width="1" height="19" fill="#32cd32"/>
<rect x="671" y="335" width="1" height="10" fill="#ff0000"/>
<rect x="670" y="336" width="3" height="7" fill="#ff0000"/>
<rect x="671" y="337" width="1" height="5" fill="#ff4500"/>
<rect x="675" y="318" width="1" height="28" fill="#ff0000"/>
<rect x="674" y="328" width="3" height="14" fill="#ff0000"/>
<rect x="675" y="329" width="1" height="12" fill="#ff4500"/>
<rect x="679" y="295" width="1" height="34" fill="#ff0000"/>
<rect x="678" y="304" width="3" height="25" fill="#ff0000"/>
<rect x="679" y="305" width="1" height="23" fill="#ff4500"/>
<rect x="683" y="284" width="1" height="31" fill="#ff0000"/>
<rect x="682" y="292" width="3" height="13" fill="#ff0000"/>
<rect x="683" y="293" width="1" height="11" fill="#ff4500"/>
<rect x="687" y="282" width="1" height="29" fill="#ff0000"/>
<rect x="686" y="292" width="3" height="2" fill="#ff0000"/>
<rect x="691" y="272" width="1" height="50" fill="#2ecb2e"/>
<rect x="690" y="292" width="3" height="29" fill="#1fc71f"/>
<rect x="691" y="293" width="1" height="27" fill="#32cd32"/>
<rect x="695" y="317" width="1" height="20" fill="#2ecb2e"/>
<rect x="694" y="319" width="3" height="14" fill="#1fc71f"/>
<rect x="695" y="320" width="1" height="12" fill="#32cd32"/>
<rect x="699" y="307" width="1" height="22" fill="#ff0000"/>
<rect x="698" y="326" width="3" height="3" fill="#ff0000"/>
<rect x="699" y="327" width="1" height="1" fill="#ff4500"/>
<rect x="703" y="252" width="1" height="87" fill="#ff0000"/>
<rect x="702" y="265" width="3" height="64" fill="#ff0000"/>
<rect x="703" y="266" width="1" height="62" fill="#ff4500"/>
<rect x="707" y="240" width="1" height="46" fill="#ff0000"/>
<rect x="706" y="246" width="3" height="20" fill="#ff0000"/>
<rect x="707" y="247" width="1" height="18" fill="#ff4500"/>
<rect x="711" y="209" width="1" height="65" fill="#ff0000"/>
<rect x="710" y="234" width="3" height="13" fill="#ff0000"/>
<rect x="711" y="235" width="1" height="11" fill="#ff4500"/>
<rect x="715" y="224" width="1" height="42" fill="#2ecb2e"/>
<rect x="714" y="234" width="3" height="27" fill="#1fc71f"/>
<rect x="715" y="235" width="1" height="25" fill="#32cd32"/>
<rect x="719" y="257" width="1" height="15" fill="#2ecb2e"/>
<rect x="718" y="259" width="3" height="12" fill="#1fc71f"/>
<rect x="719" y="260" width="1" height="10" fill="#32cd32"/>
<rect x="723" y="242" width="1" height="32" fill="#ff0000"/>
<rect x="722" y="269" width="3" height="3" fill="#ff0000"/>
<rect x="723" y="270" width="1" height="1" fill="#ff4500"/>
<rect x="727" y="232" width="1" height="45" fill="#ff0000"/>
<rect x="726" y="244" width="3" height="26" fill="#ff0000"/>
<rect x="727" y="245" width="1" height="24" fill="#ff4500"/>
<rect x="731" y="238" width="1" height="46" fill="#ff0000"/>
<rect x="730" y="239" width="3" height="7" fill="#ff0000"/>
<rect x="731" y="240" width="1" height="5" fill="#ff4500"/>
<rect x="735" y="211" width="1" height="42" fill="#ff0000"/>
<rect x="734" y="213" width="3" height="27" fill="#ff0000"/>
<rect x="735" y="214" width="1" height="25" fill="#ff4500"/>
<rect x="739" y="199" width="1" height="24" fill="#ff0000"/>
<rect x="738" y="210" width="3" height="4" fill="#ff0000"/>
<rect x="739" y="211" width="1" height="2" fill="#ff4500"/>
<rect x="743" y="201" width="1" height="15" fill="#ff0000"/>
<rect x="742" y="202" width="3" height="9" fill="#ff0000"/>
<rect x="743" y="203" width="1" height="7" fill="#ff4500"/>
<rect x="747" y="112" width="1" height="88" fill="#ff0000"/>
<rect x="746" y="136" width="3" height="61" fill="#ff0000"/>
<rect x="747" y="137" width="1" height="59" fill="#ff4500"/>
<rect x="751" y="121" width="1" height="31" fill="#2ecb2e"/>
<rect x="750" y="136" width="3" height="15" fill="#1fc71f"/>
<rect x="751" y="137" width="1" height="13" fill="#32cd32"/>
<rect x="755" y="146" width="1" height="94" fill="#2ecb2e"/>
<rect x="754" y="149" width="3" height="82" fill="#1fc71f"/>
<rect x="755" y="150" width="1" height="80" fill="#32cd32"/>
<rect x="759" y="207" width="1" height="31" fill="#ff0000"/>
<rect x="758" y="214" width="3" height="19" fill="#ff0000"/>
<rect x="759" y="215" width="1" height="17" fill="#ff4500"/>
<rect x="763" y="201" width="1" height="27" fill="#ff0000"/>
<rect x="762" y="213" width="3" height="2" fill="#ff0000"/>
<rect x="767" y="213" width="1" height="6" fill="#2ecb2e"/>
<rect x="766" y="213" width="3" height="5" fill="#1fc71f"/>
<rect x="767" y="214" width="1" height="3" fill="#32cd32"/>
<rect x="771" y="209" width="1" height="29" fill="#2ecb2e"/>
<rect x="770" y="219" width="3" height="14" fill="#1fc71f"/>
<rect x="771" y="220" width="1" height="12" fill="#32cd32"/>
<rect x="775" y="207" width="1" height="27" fill="#ff0000"/>
<rect x="774" y="213" width="3" height="20" fill="#ff0000"/>
<rect x="775" y="214" width="1" height="18" fill="#ff4500"/>
<rect x="779" y="203" width="1" height="23" fill="#2ecb2e"/>
<rect x="778" y="213" width="3" height="10" fill="#1fc71f"/>
<rect x="779" y="214" width="1" height="8" fill="#32cd32"/>
<rect x="783" y="203" width="1" height="78" fill="#2ecb2e"/>
<rect x="782" y="221" width="3" height="58" fill="#1fc71f"/>
<rect x="783" y="222" width="1" height="56" fill="#32cd32"/>
<rect x="787" y="255" width="1" height="31" fill="#ff0000"/>
<rect x="786" y="266" width="3" height="11" fill="#ff0000"/>
<rect x="787" y="267" width="1" height="9" fill="#ff4500"/>
<rect x="791" y="253" width="1" height="14" fill="#ff0000"/>
<rect x="790" y="259" width="3" height="8" fill="#ff0000"/>
<rect x="791" y="260" width="1" height="6" fill="#ff4500"/>
<rect x="795" y="248" width="1" height="25" fill="#ff0000"/>
<rect x="794" y="249" width="3" height="15" fill="#ff0000"/>
<rect x="795" y="250" width="1" height="13" fill="#ff4500"/>
<rect x="799" y="216" width="1" height="39" fill="#ff0000"/>
<rect x="798" y="227" width="3" height="23" fill="#ff0000"/>
<rect x="799" y="228" width="1" height="21" fill="#ff4500"/>
<rect x="803" y="223" width="1" height="22" fill="#ff0000"/>
<rect x="802" y="225" width="3" height="4" fill="#ff0000"/>
<rect x="803" y="226" width="1" height="2" fill="#ff4500"/>
<rect x="807" y="225" width="1" height="37" fill="#2ecb2e"/>
<rect x="806" y="227" width="3" height="30" fill="#1fc71f"/>
<rect x="807" y="228" width="1" height="28" fill="#32cd32"/>
<rect x="811" y="213" width="1" height="44" fill="#ff0000"/>
<rect x="810" y="221" width="3" height="36" fill="#ff0000"/>
<rect x="811" y="222" width="1" height="34" fill="#ff4500"/>
<rect x="815" y="219" width="1" height="9" fill="#2ecb2e"/>
<rect x="814" y="221" width="3" height="4" fill="#1fc71f"/>
<rect x="815" y="222" width="1" height="2" fill="#32cd32"/>
<rect x="819" y="210" width="1" height="27" fill="#ff0000"/>
<rect x="818" y="217" width="3" height="2" fill="#ff0000"/>
<rect x="823" y="210" width="1" height="31" fill="#2ecb2e"/>
<rect x="822" y="218" width="3" height="19" fill="#1fc71f"/>
<rect x="823" y="219" width="1" height="17" fill="#32cd32"/>
<rect x="827" y="228" width="1" height="28" fill="#2ecb2e"/>
<rect x="826" y="235" width="3" height="10" fill="#1fc71f"/>
<rect x="827" y="236" width="1" height="8" fill="#32cd32"/>
<rect x="831" y="236" width="1" height="20" fill="#ff0000"/>
<rect x="830" y="240" width="3" height="5" fill="#ff0000"/>
<rect x="831" y="241" width="1" height="3" fill="#ff4500"/>
<rect x="835" y="235" width="1" height="15" fill="#2ecb2e"/>
<rect x="834" y="240" width="3" height="5" fill="#1fc71f"/>
<rect x="835" y="241" width="1" height="3" fill="#32cd32"/>
<rect x="839" y="241" width="1" height="6" fill="#ff0000"/>
<rect x="838" y="242" width="3" height="4" fill="#ff0000"/>
<rect x="839" y="243" width="1" height="2" fill="#ff4500"/>
<rect x="843" y="212" width="1" height="34" fill="#ff0000"/>
<rect x="842" y="218" width="3" height="27" fill="#ff0000"/>
<rect x="843" y="219" width="1" height="25" fill="#ff4500"/>
<rect x="847" y="189" width="1" height="33" fill="#ff0000"/>
<rect x="846" y="194" width="3" height="27" fill="#ff0000"/>
<rect x="847" y="195" width="1" height="25" fill="#ff4500"/>
<rect x="851" y="183" width="1" height="23" fill="#ff0000"/>
<rect x="850" y="187" width="3" height="9" fill="#ff0000"/>
<rect x="851" y="188" width="1" height="7" fill="#ff4500"/>
<rect x="855" y="107" width="1" height="94" fill="#ff0000"/>
<rect x="854" y="118" width="3" height="70" fill="#ff0000"/>
<rect x="855" y="119" width="1" height="68" fill="#ff4500"/>
<rect x="859" y="48" width="1" height="74" fill="#ff0000"/>
<rect x="858" y="92" width="3" height="28" fill="#ff0000"/>
<rect x="859" y="93" width="1" height="26" fill="#ff4500"/>
<rect x="863" y="91" width="1" height="8" fill="#2ecb2e"/>
<rect x="862" y="91" width="3" height="4" fill="#1fc71f"/>
<rect x="863" y="92" width="1" height="2" fill="#32cd32"/>
<rect x="867" y="102" width="1" height="76" fill="#2ecb2e"/>
<rect x="866" y="102" width="3" height="74" fill="#1fc71f"/>
<rect x="867" y="103" width="1" height="72" fill="#32cd32"/>
<rect x="871" y="173" width="1" height="42" fill="#2ecb2e"/>
<rect x="870" y="173" width="3" height="27" fill="#1fc71f"/>
<rect x="871" y="174" width="1" height="25" fill="#32cd32"/>
<rect x="875" y="185" width="1" height="27" fill="#ff0000"/>
<rect x="874" y="194" width="3" height="6" fill="#ff0000"/>
<rect x="875" y="195" width="1" height="4" fill="#ff4500"/>
<rect x="879" y="180" width="1" height="32" fill="#ff0000"/>
<rect x="878" y="180" width="3" height="15" fill="#ff0000"/>
<rect x="879" y="181" width="1" height="13" fill="#ff4500"/>
<rect x="883" y="156" width="1" height="45" fill="#2ecb2e"/>
<rect x="882" y="181" width="3" height="20" fill="#1fc71f"/>
<rect x="883" y="182" width="1" height="18" fill="#32cd32"/>
<rect x="887" y="195" width="1" height="8" fill="#ff0000"/>
<rect x="886" y="196" width="3" height="5" fill="#ff0000"/>
<rect x="887" y="197" width="1" height="3" fill="#ff4500"/>
<rect x="891" y="189" width="1" height="30" fill="#2ecb2e"/>
<rect x="890" y="198" width="3" height="6" fill="#1fc71f"/>
<rect x="891" y="199" width="1" height="4" fill="#32cd32"/>
<rect x="895" y="181" width="1" height="38" fill="#ff0000"/>
<rect x="894" y="192" width="3" height="11" fill="#ff0000"/>
<rect x="895" y="193" width="1" height="9" fill="#ff4500"/>
<rect x="899" y="188" width="1" height="27" fill="#2ecb2e"/>
<rect x="898" y="192" width="3" height="7" fill="#1fc71f"/>
<rect x="899" y="193" width="1" height="5" fill="#32cd32"/>
<rect x="903" y="188" width="1" height="39" fill="#2ecb2e"/>
<rect x="902" y="198" width="3" height="25" fill="#1fc71f"/>
<rect x="903" y="199" width="1" height="23" fill="#32cd32"/>
<rect x="907" y="220" width="1" height="33" fill="#2ecb2e"/>
<rect x="906" y="222" width="3" height="18" fill="#1fc71f"/>
<rect x="907" y="223" width="1" height="16" fill="#32cd32"/>
<rect x="911" y="238" width="1" height="12" fill="#2ecb2e"/>
<rect x="910" y="239" width="3" height="6" fill="#1fc71f"/>
<rect x="911" y="240" width="1" height="4" fill="#32cd32"/>
<rect x="915" y="223" width="1" height="17" fill="#ff0000"/>
<rect x="914" y="235" width="3" height="5" fill="#ff0000"/>
<rect x="915" y="236" width="1" height="3" fill="#ff4500"/>
<rect x="919" y="185" width="1" height="58" fill="#ff0000"/>
<rect x="918" y="194" width="3" height="42" fill="#ff0000"/>
<rect x="919" y="195" width="1" height="40" fill="#ff4500"/>
<rect x="923" y="180" width="1" height="18" fill="#ff0000"/>
<rect x="922" y="183" width="3" height="13" fill="#ff0000"/>
<rect x="923" y="184" width="1" height="11" fill="#ff4500"/>
</g>
<rect x="2" y="80" width="6" height="6" fill="#ff0000"/>
<rect x="4" y="82" width="2" height="2" fill="#fff"/>
<rect x="1159" y="80" width="6" height="6" fill="#ff0000"/>
<rect x="1161" y="82" width="2" height="2" fill="#fff"/>
<rect x="2" y="170" width="6" height="6" fill="#00ff00"/>
<rect x="4" y="172" width="2" height="2" fill="#fff"/>
<rect x="1159" y="170" width="6" height="6" fill="#00ff00"/>
<rect x="1161" y="172" width="2" height="2" fill="#fff"/>
<rect x="2" y="246" width="6" height="6" fill="#0000ff"/>
<rect x="4" y="248" width="2" height="2" fill="#fff"/>
<rect x="1159" y="246" width="6" height="6" fill="#0000ff"/>
<rect x="1161" y="248" width="2" height="2" fill="#fff"/>
<g clip-path="url(#macdclip)" shape-rendering="crispEdges">
<rect x="2" y="526" width="3" height="35" fill="#c0c0c0"/>
<rect x="6" y="526" width="3" height="34" fill="#c0c0c0"/>
<rect x="10" y="526" width="3" height="34" fill="#c0c0c0"/>
<rect x="14" y="526" width="3" height="34" fill="#c0c0c0"/>
<rect x="18" y="526" width="3" height="33" fill="#c0c0c0"/>
<rect x="22" y="526" width="3" height="33" fill="#c0c0c0"/>
<rect x="26" y="526" width="3" height="31" fill="#c0c0c0"/>
<rect x="30" y="526" width="3" height="29" fill="#c0c0c0"/>
<rect x="34" y="526" width="3" height="25" fill="#c0c0c0"/>
<rect x="38" y="526" width="3" height="21" fill="#c0c0c0"/>
<rect x="42" y="526" width="3" height="17" fill="#c0c0c0"/>
<rect x="46" y="526" width="3" height="16" fill="#c0c0c0"/>
<rect x="50" y="526" width="3" height="13" fill="#c0c0c0"/>
<rect x="54" y="526" width="3" height="12" fill="#c0c0c0"/>
<rect x="58" y="526" width="3" height="12" fill="#c0c0c0"/>
<rect x="62" y="526" width="3" height="13" fill="#c0c0c0"/>
<rect x="66" y="526" width="3" height="14" fill="#c0c0c0"/>
<rect x="70" y="526" width="3" height="16" fill="#c0c0c0"/>
<rect x="74" y="526" width="3" height="16" fill="#c0c0c0"/>
<rect x="78" y="526" width="3" height="16" fill="#c0c0c0"/>
<rect x="82" y="526" width="3" height="18" fill="#c0c0c0"/>
<rect x="86" y="526" width="3" height="17" fill="#c0c0c0"/>
<rect x="90" y="526" width="3" height="18" fill="#c0c0c0"/>
<rect x="94" y="526" width="3" height="18" fill="#c0c0c0"/>
<rect x="98" y="526" width="3" height="15" fill="#c0c0c0"/>
<rect x="102" y="526" width="3" height="13" fill="#c0c0c0"/>
<rect x="106" y="526" width="3" height="13" fill="#c0c0c0"/>
<rect x="110" y="526" width="3" height="15" fill="#c0c0c0"/>
<rect x="114" y="526" width="3" height="13" fill="#c0c0c0"/>
<rect x="118" y="526" width="3" height="13" fill="#c0c0c0"/>
<rect x="122" y="526" width="3" height="11" fill="#c0c0c0"/>
<rect x="126" y="526" width="3" height="10" fill="#c0c0c0"/>
<rect x="130" y="526" width="3" height="13" fill="#c0c0c0"/>
<rect x="134" y="526" width="3" height="15" fill="#c0c0c0"/>
<rect x="138" y="526" width="3" height="13" fill="#c0c0c0"/>
<rect x="142" y="526" width="3" height="12" fill="#c0c0c0"/>
<rect x="146" y="526" width="3" height="10" fill="#c0c0c0"/>
<rect x="150" y="526" width="3" height="10" fill="#c0c0c0"/>
<rect x="154" y="526" width="3" height="7" fill="#c0c0c0"/>
<rect x="158" y="526" width="3" height="4" fill="#c0c0c0"/>
<rect x="162" y="526" width="3" height="3" fill="#c0c0c0"/>
<rect x="166" y="526" width="3" height="1" fill="#c0c0c0"/>
<rect x="170" y="524" width="3" height="2" fill="#c0c0c0"/>
<rect x="174" y="522" width="3" height="4" fill="#c0c0c0"/>
<rect x="178" y="522" width="3" height="4" fill="#c0c0c0"/>
<rect x="182" y="521" width="3" height="5" fill="#c0c0c0"/>
<rect x="186" y="521" width="3" height="5" fill="#c0c0c0"/>
<rect x="190" y="522" width="3" height="4" fill="#c0c0c0"/>
<rect x="194" y="523" width="3" height="3" fill="#c0c0c0"/>
<rect x="198" y="525" width="3" height="1" fill="#c0c0c0"/>
<rect x="202" y="526" width="3" height="2" fill="#c0c0c0"/>
<rect x="206" y="526" width="3" height="4" fill="#c0c0c0"/>
<rect x="210" y="526" width="3" height="5" fill="#c0c0c0"/>
<rect x="214" y="526" width="3" height="6" fill="#c0c0c0"/>
<rect x="218" y="526" width="3" height="8" fill="#c0c0c0"/>
<rect x="222" y="526" width="3" height="8" fill="#c0c0c0"/>
<rect x="226" y="526" width="3" height="7" fill="#c0c0c0"/>
<rect x="230" y="526" width="3" height="7" fill="#c0c0c0"/>
<rect x="234" y="526" width="3" height="9" fill="#c0c0c0"/>
<rect x="238" y="526" width="3" height="11" fill="#c0c0c0"/>
<rect x="242" y="526" width="3" height="12" fill="#c0c0c0"/>
<rect x="246" y="526" width="3" height="13" fill="#c0c0c0"/>
<rect x="250" y="526" width="3" height="15" fill="#c0c0c0"/>
<rect x="254" y="526" width="3" height="18" fill="#c0c0c0"/>
<rect x="258" y="526" width="3" height="16" fill="#c0c0c0"/>
<rect x="262" y="526" width="3" height="12" fill="#c0c0c0"/>
<rect x="266" y="526" width="3" height="11" fill="#c0c0c0"/>
<rect x="270" y="526" width="3" height="11" fill="#c0c0c0"/>
<rect x="274" y="526" width="3" height="11" fill="#c0c0c0"/>
<rect x="278" y="526" width="3" height="11" fill="#c0c0c0"/>
<rect x="282" y="526" width="3" height="9" fill="#c0c0c0"/>
<rect x="286" y="526" width="3" height="8" fill="#c0c0c0"/>
<rect x="290" y="526" width="3" height="6" fill="#c0c0c0"/>
<rect x="294" y="526" width="3" height="6" fill="#c0c0c0"/>
<rect x="298" y="526" width="3" height="6" fill="#c0c0c0"/>
<rect x="302" y="526" width="3" height="8" fill="#c0c0c0"/>
<rect x="306" y="526" width="3" height="11" fill="#c0c0c0"/>
<rect x="310" y="526" width="3" height="14" fill="#c0c0c0"/>
<rect x="314" y="526" width="3" height="16" fill="#c0c0c0"/>
<rect x="318" y="526" width="3" height="18" fill="#c0c0c0"/>
<rect x="322" y="526" width="3" height="19" fill="#c0c0c0"/>
<rect x="326" y="526" width="3" height="21" fill="#c0c0c0"/>
<rect x="330" y="526" width="3" height="20" fill="#c0c0c0"/>
<rect x="334" y="526" width="3" height="19" fill="#c0c0c0"/>
<rect x="338" y="526" width="3" height="18" fill="#c0c0c0"/>
<rect x="342" y="526" width="3" height="16" fill="#c0c0c0"/>
<rect x="346" y="526" width="3" height="14" fill="#c0c0c0"/>
<rect x="350" y="526" width="3" height="11" fill="#c0c0c0"/>
<rect x="354" y="526" width="3" height="9" fill="#c0c0c0"/>
<rect x="358" y="526" width="3" height="7" fill="#c0c0c0"/>
<rect x="362" y="526" width="3" height="5" fill="#c0c0c0"/>
<rect x="366" y="526" width="3" height="3" fill="#c0c0c0"/>
<rect x="370" y="526" width="3" height="3" fill="#c0c0c0"/>
<rect x="374" y="526" width="3" height="3" fill="#c0c0c0"/>
<rect x="378" y="526" width="3" height="3" fill="#c0c0c0"/>
<rect x="382" y="526" width="3" height="3" fill="#c0c0c0"/>
<rect x="386" y="526" width="3" height="5" fill="#c0c0c0"/>
<rect x="390" y="526" width="3" height="5" fill="#c0c0c0"/>
<rect x="394" y="526" width="3" height="3" fill="#c0c0c0"/>
<rect x="398" y="526" width="3" height="2" fill="#c0c0c0"/>
<rect x="402" y="526" width="3" height="3" fill="#c0c0c0"/>
<rect x="406" y="526" width="3" height="4" fill="#c0c0c0"/>
<rect x="410" y="526" width="3" height="4" fill="#c0c0c0"/>
<rect x="414" y="526" width="3" height="4" fill="#c0c0c0"/>
<rect x="418" y="526" width="3" height="5" fill="#c0c0c0"/>
<rect x="422" y="526" width="3" height="5" fill="#c0c0c0"/>
<rect x="426" y="526" width="3" height="6" fill="#c0c0c0"/>
<rect x="430" y="526" width="3" height="6" fill="#c0c0c0"/>
<rect x="434" y="526" width="3" height="6" fill="#c0c0c0"/>
<rect x="438" y="526" width="3" height="4" fill="#c0c0c0"/>
<rect x="442" y="526" width="3" height="6" fill="#c0c0c0"/>
<rect x="446" y="526" width="3" height="6" fill="#c0c0c0"/>
<rect x="450" y="526" width="3" height="7" fill="#c0c0c0"/>
<rect x="454" y="526" width="3" height="8" fill="#c0c0c0"/>
<rect x="458" y="526" width="3" height="10" fill="#c0c0c0"/>
<rect x="462" y="526" width="3" height="12" fill="#c0c0c0"/>
<rect x="466" y="526" width="3" height="15" fill="#c0c0c0"/>
<rect x="470" y="526" width="3" height="19" fill="#c0c0c0"/>
<rect x="474" y="526" width="3" height="21" fill="#c0c0c0"/>
<rect x="478" y="526" width="3" height="23" fill="#c0c0c0"/>
<rect x="482" y="526" width="3" height="25" fill="#c0c0c0"/>
<rect x="486" y="526" width="3" height="25" fill="#c0c0c0"/>
<rect x="490" y="526" width="3" height="26" fill="#c0c0c0"/>
<rect x="494" y="526" width="3" height="28" fill="#c0c0c0"/>
<rect x="498" y="526" width="3" height="31" fill="#c0c0c0"/>
<rect x="502" y="526" width="3" height="33" fill="#c0c0c0"/>
<rect x="506" y="526" width="3" height="36" fill="#c0c0c0"/>
<rect x="510" y="526" width="3" height="38" fill="#c0c0c0"/>
<rect x="514" y="526" width="3" height="38" fill="#c0c0c0"/>
<rect x="518" y="526" width="3" height="37" fill="#c0c0c0"/>
<rect x="522" y="526" width="3" height="37" fill="#c0c0c0"/>
<rect x="526" y="526" width="3" height="36" fill="#c0c0c0"/>
<rect x="530" y="526" width="3" height="36" fill="#c0c0c0"/>
<rect x="534" y="526" width="3" height="36" fill="#c0c0c0"/>
<rect x="538" y="526" width="3" height="35" fill="#c0c0c0"/>
<rect x="542" y="526" width="3" height="35" fill="#c0c0c0"/>
<rect x="546" y="526" width="3" height="33" fill="#c0c0c0"/>
<rect x="550" y="526" width="3" height="32" fill="#c0c0c0"/>
<rect x="554" y="526" width="3" height="31" fill="#c0c0c0"/>
<rect x="558" y="526" width="3" height="29" fill="#c0c0c0"/>
<rect x="562" y="526" width="3" height="27" fill="#c0c0c0"/>
<rect x="566" y="526" width="3" height="26" fill="#c0c0c0"/>
<rect x="570" y="526" width="3" height="24" fill="#c0c0c0"/>
<rect x="574" y="526" width="3" height="23" fill="#c0c0c0"/>
<rect x="578" y="526" width="3" height="22" fill="#c0c0c0"/>
<rect x="582" y="526" width="3" height="22" fill="#c0c0c0"/>
<rect x="586" y="526" width="3" height="21" fill="#c0c0c0"/>
<rect x="590" y="526" width="3" height="18" fill="#c0c0c0"/>
<rect x="594" y="526" width="3" height="17" fill="#c0c0c0"/>
<rect x="598" y="526" width="3" height="16" fill="#c0c0c0"/>
<rect x="602" y="526" width="3" height="15" fill="#c0c0c0"/>
<rect x="606" y="526" width="3" height="13" fill="#c0c0c0"/>
<rect x="610" y="526" width="3" height="12" fill="#c0c0c0"/>
<rect x="614" y="526" width="3" height="11" fill="#c0c0c0"/>
<rect x="618" y="526" width="3" height="8" fill="#c0c0c0"/>
<rect x="622" y="526" width="3" height="5" fill="#c0c0c0"/>
<rect x="626" y="526" width="3" height="5" fill="#c0c0c0"/>
<rect x="630" y="526" width="3" height="2" fill="#c0c0c0"/>
<rect x="634" y="526" width="3" height="1" fill="#c0c0c0"/>
<rect x="638" y="519" width="3" height="7" fill="#c0c0c0"/>
<rect x="642" y="512" width="3" height="14" fill="#c0c0c0"/>
<rect x="646" y="507" width="3" height="19" fill="#c0c0c0"/>
<rect x="650" y="505" width="3" height="21" fill="#c0c0c0"/>
<rect x="654" y="504" width="3" height="22" fill="#c0c0c0"/>
<rect x="658" y="505" width="3" height="21" fill="#c0c0c0"/>
<rect x="662" y="505" width="3" height="21" fill="#c0c0c0"/>
<rect x="666" y="506" width="3" height="20" fill="#c0c0c0"/>
<rect x="670" y="507" width="3" height="19" fill="#c0c0c0"/>
<rect x="674" y="508" width="3" height="18" fill="#c0c0c0"/>
<rect x="678" y="507" width="3" height="19" fill="#c0c0c0"/>
<rect x="682" y="505" width="3" height="21" fill="#c0c0c0"/>
<rect x="686" y="505" width="3" height="21" fill="#c0c0c0"/>
<rect x="690" y="506" width="3" height="20" fill="#c0c0c0"/>
<rect x="694" y="508" width="3" height="18" fill="#c0c0c0"/>
<rect x="698" y="509" width="3" height="17" fill="#c0c0c0"/>
<rect x="702" y="507" width="3" height="19" fill="#c0c0c0"/>
<rect x="706" y="504" width="3" height="22" fill="#c0c0c0"/>
<rect x="710" y="501" width="3" height="25" fill="#c0c0c0"/>
<rect x="714" y="501" width="3" height="25" fill="#c0c0c0"/>
<rect x="718" y="502" width="3" height="24" fill="#c0c0c0"/>
<rect x="722" y="502" width="3" height="24" fill="#c0c0c0"/>
<rect x="726" y="502" width="3" height="24" fill="#c0c0c0"/>
<rect x="730" y="501" width="3" height="25" fill="#c0c0c0"/>
<rect x="734" y="499" width="3" height="27" fill="#c0c0c0"/>
<rect x="738" y="498" width="3" height="28" fill="#c0c0c0"/>
<rect x="742" y="497" width="3" height="29" fill="#c0c0c0"/>
<rect x="746" y="492" width="3" height="34" fill="#c0c0c0"/>
<rect x="750" y="490" width="3" height="36" fill="#c0c0c0"/>
<rect x="754" y="493" width="3" height="33" fill="#c0c0c0"/>
<rect x="758" y="495" width="3" height="31" fill="#c0c0c0"/>
<rect x="762" y="497" width="3" height="29" fill="#c0c0c0"/>
<rect x="766" y="499" width="3" height="27" fill="#c0c0c0"/>
<rect x="770" y="502" width="3" height="24" fill="#c0c0c0"/>
<rect x="774" y="503" width="3" height="23" fill="#c0c0c0"/>
<rect x="778" y="505" width="3" height="21" fill="#c0c0c0"/>
<rect x="782" y="510" width="3" height="16" fill="#c0c0c0"/>
<rect x="786" y="514" width="3" height="12" fill="#c0c0c0"/>
<rect x="790" y="516" width="3" height="10" fill="#c0c0c0"/>
<rect x="794" y="518" width="3" height="8" fill="#c0c0c0"/>
<rect x="798" y="517" width="3" height="9" fill="#c0c0c0"/>
<rect x="802" y="517" width="3" height="9" fill="#c0c0c0"/>
<rect x="806" y="519" width="3" height="7" fill="#c0c0c0"/>
<rect x="810" y="519" width="3" height="7" fill="#c0c0c0"/>
<rect x="814" y="518" width="3" height="8" fill="#c0c0c0"/>
<rect x="818" y="518" width="3" height="8" fill="#c0c0c0"/>
<rect x="822" y="519" width="3" height="7" fill="#c0c0c0"/>
<rect x="826" y="520" width="3" height="6" fill="#c0c0c0"/>
<rect x="830" y="521" width="3" height="5" fill="#c0c0c0"/>
<rect x="834" y="522" width="3" height="4" fill="#c0c0c0"/>
<rect x="838" y="522" width="3" height="4" fill="#c0c0c0"/>
<rect x="842" y="521" width="3" height="5" fill="#c0c0c0"/>
<rect x="846" y="519" width="3" height="7" fill="#c0c0c0"/>
<rect x="850" y="517" width="3" height="9" fill="#c0c0c0"/>
<rect x="854" y="511" width="3" height="15" fill="#c0c0c0"/>
<rect x="858" y="505" width="3" height="21" fill="#c0c0c0"/>
<rect x="862" y="501" width="3" height="25" fill="#c0c0c0"/>
<rect x="866" y="503" width="3" height="23" fill="#c0c0c0"/>
<rect x="870" y="506" width="3" height="20" fill="#c0c0c0"/>
<rect x="874" y="509" width="3" height="17" fill="#c0c0c0"/>
<rect x="878" y="510" width="3" height="16" fill="#c0c0c0"/>
<rect x="882" y="512" width="3" height="14" fill="#c0c0c0"/>
<rect x="886" y="514" width="3" height="12" fill="#c0c0c0"/>
<rect x="890" y="516" width="3" height="10" fill="#c0c0c0"/>
<rect x="894" y="517" width="3" height="9" fill="#c0c0c0"/>
<rect x="898" y="518" width="3" height="8" fill="#c0c0c0"/>
<rect x="902" y="521" width="3" height="5" fill="#c0c0c0"/>
<rect x="906" y="524" width="3" height="2" fill="#c0c0c0"/>
<rect x="910" y="526" width="3" height="1" fill="#c0c0c0"/>
<rect x="914" y="526" width="3" height="3" fill="#c0c0c0"/>
<rect x="918" y="526" width="3" height="2" fill="#c0c0c0"/>
<rect x="922" y="525" width="3" height="1" fill="#c0c0c0"/>
</g>
<g clip-path="url(#macdclip)">
<polyline points="3.5,552.4 7.5,554.0 11.5,555.3 15.5,556.4 19.5,557.2 23.5,557.8 27.5,557.9 31.5,557.7 35.5,556.8 39.5,555.3 43.5,553.4 47.5,551.4 51.5,549.1 55.5,546.7 59.5,544.4 63.5,542.4 67.5,540.8 71.5,539.8 75.5,539.3 79.5,539.2 83.5,539.4 87.5,539.9 91.5,540.6 95.5,541.3 99.5,541.5 103.5,541.4 107.5,541.1 111.5,541.0 115.5,540.7 119.5,540.1 123.5,539.4 127.5,538.6 131.5,538.0 135.5,538.0 139.5,538.0 143.5,537.8 147.5,537.2 151.5,536.8 155.5,536.2 159.5,535.4 163.5,534.6 167.5,533.4 171.5,531.6 175.5,529.8 179.5,528.2 183.5,526.6 187.5,525.2 191.5,524.1 195.5,523.4 199.5,523.0 203.5,523.1 207.5,523.7 211.5,524.6 215.5,525.5 219.5,526.8 223.5,528.2 227.5,529.3 231.5,530.2 235.5,531.3 239.5,532.2 243.5,533.1 247.5,534.0 251.5,535.0 255.5,536.2 259.5,537.0 263.5,537.5 267.5,538.0 271.5,538.2 275.5,538.2 279.5,538.1 283.5,537.6 287.5,536.7 291.5,535.5 295.5,534.4 299.5,533.7 303.5,533.3 307.5,533.3 311.5,533.7 315.5,534.3 319.5,535.4 323.5,536.7 327.5,538.3 331.5,539.8 335.5,541.3 339.5,542.4 343.5,542.9 347.5,542.8 351.5,542.2 355.5,541.1 359.5,539.7 363.5,538.0 367.5,536.2 371.5,534.4 375.5,532.7 379.5,531.4 383.5,530.2 387.5,529.5 391.5,529.1 395.5,528.7 399.5,528.3 403.5,528.3 407.5,528.4 411.5,528.5 415.5,528.5 419.5,528.7 423.5,528.7 427.5,528.8 431.5,529.2 435.5,529.6 439.5,529.8 443.5,530.0 447.5,530.3 451.5,530.6 455.5,531.0 459.5,531.6 463.5,532.3 467.5,533.3 471.5,534.7 475.5,536.6 479.5,538.5 483.5,540.6 487.5,542.6 491.5,544.6 495.5,546.6 499.5,548.7 503.5,550.8 507.5,552.7 511.5,554.6 515.5,556.2 519.5,557.6 523.5,558.9 527.5,560.0 531.5,560.9 535.5,561.4 539.5,561.5 543.5,561.3 547.5,560.8 551.5,560.2 555.5,559.5 559.5,558.7 563.5,557.7 567.5,556.5 571.5,555.2 575.5,553.8 579.5,552.4 583.5,551.0 587.5,549.8 591.5,548.4 595.5,547.0 599.5,545.7 603.5,544.6 607.5,543.4 611.5,542.2 615.5,541.0 619.5,539.5 623.5,537.8 627.5,536.3 631.5,534.6 635.5,532.9 639.5,530.6 643.5,527.7 647.5,524.4 651.5,521.0 655.5,517.8 659.5,514.9 663.5,512.2 667.5,509.9 671.5,507.9 675.5,506.6 679.5,505.9 683.5,505.7 687.5,505.7 691.5,505.9 695.5,506.2 699.5,506.7 703.5,506.8 707.5,506.5 711.5,505.7 715.5,505.1 719.5,504.7 723.5,504.5 727.5,504.0 731.5,503.2 735.5,502.1 739.5,501.1 743.5,500.3 747.5,499.3 751.5,498.1 755.5,497.1 759.5,496.3 763.5,495.8 767.5,495.6 771.5,495.9 775.5,496.5 779.5,497.4 783.5,499.5 787.5,502.2 791.5,504.7 795.5,507.2 799.5,509.5 803.5,511.5 807.5,513.4 811.5,515.1 815.5,516.5 819.5,517.4 823.5,517.9 827.5,518.3 831.5,518.6 835.5,519.1 839.5,519.6 843.5,519.9 847.5,519.9 851.5,519.8 855.5,519.1 859.5,517.6 863.5,515.5 867.5,513.5 871.5,511.8 875.5,510.3 879.5,509.0 883.5,508.2 887.5,507.9 891.5,508.4 895.5,509.6 899.5,511.5 903.5,513.5 907.5,515.5 911.5,517.5 915.5,519.5 919.5,521.1 923.5,522.4" fill="none" stroke="#ff0000" stroke-width="1" shape-rendering="crispEdges"/>
</g>
<line x1="4" y1="597.5" x2="1165" y2="597.5" stroke="#c0c0c0" stroke-width="1" stroke-dasharray="3,3" shape-rendering="crispEdges"/>
<line x1="4" y1="631.5" x2="1165" y2="631.5" stroke="#c0c0c0" stroke-width="1" stroke-dasharray="3,3" shape-rendering="crispEdges"/>
<g clip-path="url(#rsiclip)">
<polyline points="3.5,628.9 7.5,629.2 11.5,628.9 15.5,631.3 19.5,627.7 23.5,630.2 27.5,623.5 31.5,621.9 35.5,616.0 39.5,612.8 43.5,611.8 47.5,616.6 51.5,613.9 55.5,614.6 59.5,620.1 63.5,623.6 67.5,625.1 71.5,626.7 75.5,623.7 79.5,623.7 83.5,627.1 87.5,623.3 91.5,626.0 95.5,623.1 99.5,613.4 103.5,616.7 107.5,620.5 111.5,625.2 115.5,615.8 119.5,617.9 123.5,614.9 127.5,617.0 131.5,623.9 135.5,624.3 139.5,616.3 143.5,615.6 147.5,614.0 151.5,617.2 155.5,612.1 159.5,610.0 163.5,612.9 167.5,610.7 171.5,608.7 175.5,608.9 179.5,612.5 183.5,609.1 187.5,614.3 191.5,614.6 195.5,615.9 199.5,618.4 203.5,621.4 207.5,621.2 211.5,619.1 215.5,619.1 219.5,624.0 223.5,619.8 227.5,615.2 231.5,615.9 235.5,624.7 239.5,622.9 243.5,623.4 247.5,624.7 251.5,626.9 255.5,630.1 259.5,615.7 263.5,612.2 267.5,616.0 271.5,618.6 275.5,617.9 279.5,619.4 283.5,612.9 287.5,614.8 291.5,614.5 295.5,616.3 299.5,616.3 303.5,622.3 307.5,626.6 311.5,628.2 315.5,625.7 319.5,628.1 323.5,625.3 327.5,627.3 331.5,620.3 335.5,621.6 339.5,618.3 343.5,616.6 347.5,616.2 351.5,611.0 355.5,613.2 359.5,612.5 363.5,612.8 367.5,609.6 371.5,615.3 375.5,615.4 379.5,618.2 383.5,615.1 387.5,620.4 391.5,617.2 395.5,610.5 399.5,614.2 403.5,617.2 407.5,618.4 411.5,615.3 415.5,617.0 419.5,619.4 423.5,616.5 427.5,620.1 431.5,619.9 435.5,616.1 439.5,612.0 443.5,620.2 447.5,619.4 451.5,618.9 455.5,620.9 459.5,626.6 463.5,626.8 467.5,629.6 471.5,632.9 475.5,633.2 479.5,633.6 483.5,634.0 487.5,627.4 491.5,631.2 495.5,634.8 499.5,637.2 503.5,636.9 507.5,639.1 511.5,637.9 515.5,636.2 519.5,630.2 523.5,632.1 527.5,632.5 531.5,634.6 535.5,635.1 539.5,630.9 543.5,633.4 547.5,630.0 551.5,630.8 555.5,627.5 559.5,628.5 563.5,622.6 567.5,625.6 571.5,623.8 575.5,624.5 579.5,625.7 583.5,628.9 587.5,626.2 591.5,616.5 595.5,619.7 599.5,620.9 603.5,622.2 607.5,616.9 611.5,616.7 615.5,617.8 619.5,609.7 623.5,609.1 627.5,614.0 631.5,606.6 635.5,611.2 639.5,598.5 643.5,595.0 647.5,596.4 651.5,602.0 655.5,602.3 659.5,609.3 663.5,606.1 667.5,609.8 671.5,608.9 675.5,607.8 679.5,604.5 683.5,602.9 687.5,602.9 691.5,609.0 695.5,611.3 699.5,610.3 703.5,601.8 707.5,599.8 711.5,598.4 715.5,604.1 719.5,606.1 723.5,606.0 727.5,602.6 731.5,601.9 735.5,598.8 739.5,598.5 743.5,597.5 747.5,591.4 751.5,594.8 755.5,609.7 759.5,607.9 763.5,607.8 767.5,608.5 771.5,611.2 775.5,608.4 779.5,610.1 783.5,618.7 787.5,616.7 791.5,615.7 795.5,614.0 799.5,610.7 803.5,610.4 807.5,615.8 811.5,610.4 815.5,610.8 819.5,609.8 823.5,613.3 827.5,614.7 831.5,614.0 835.5,614.8 839.5,614.3 843.5,609.7 847.5,605.6 851.5,604.5 855.5,596.1 859.5,593.8 863.5,594.4 867.5,610.1 871.5,613.6 875.5,613.0 879.5,611.0 883.5,614.1 887.5,613.5 891.5,614.6 895.5,612.8 899.5,613.9 903.5,618.1 907.5,620.7 911.5,621.3 915.5,619.6 919.5,611.8 923.5,610.0" fill="none" stroke="#1e90ff" stroke-width="1" shape-rendering="crispEdges"/>
</g>
<rect x="1166" y="50" width="2" height="1" fill="#000"/>
<text x="1171.58" y="53.83" font-size="9.67" textLength="31.75" lengthAdjust="spacingAndGlyphs" fill="#000" stroke="#000" stroke-width="0.35">1.29440</text>
<rect x="1166" y="83" width="2" height="1" fill="#000"/>
<rect x="1166" y="116" width="2" height="1" fill="#000"/>
<text x="1171.58" y="119.83" font-size="9.67" textLength="31.75" lengthAdjust="spacingAndGlyphs" fill="#000" stroke="#000" stroke-width="0.35">1.27960</text>
<rect x="1166" y="149" width="2" height="1" fill="#000"/>
<text x="1171.58" y="152.82" font-size="9.67" textLength="31.75" lengthAdjust="spacingAndGlyphs" fill="#000" stroke="#000" stroke-width="0.35">1.27240</text>
<rect x="1166" y="182" width="2" height="1" fill="#000"/>
<rect x="1166" y="215" width="2" height="1" fill="#000"/>
<text x="1171.58" y="218.82" font-size="9.67" textLength="31.75" lengthAdjust="spacingAndGlyphs" fill="#000" stroke="#000" stroke-width="0.35">1.25760</text>
<rect x="1166" y="248" width="2" height="1" fill="#000"/>
<rect x="1166" y="281" width="2" height="1" fill="#000"/>
<text x="1171.58" y="284.82" font-size="9.67" textLength="31.75" lengthAdjust="spacingAndGlyphs" fill="#000" stroke="#000" stroke-width="0.35">1.24280</text>
<rect x="1166" y="314" width="2" height="1" fill="#000"/>
<text x="1171.58" y="317.82" font-size="9.67" textLength="31.75" lengthAdjust="spacingAndGlyphs" fill="#000" stroke="#000" stroke-width="0.35">1.23560</text>
<rect x="1166" y="347" width="2" height="1" fill="#000"/>
<text x="1171.58" y="350.82" font-size="9.67" textLength="31.75" lengthAdjust="spacingAndGlyphs" fill="#000" stroke="#000" stroke-width="0.35">1.22820</text>
<rect x="1166" y="380" width="2" height="1" fill="#000"/>
<text x="1171.58" y="383.82" font-size="9.67" textLength="31.75" lengthAdjust="spacingAndGlyphs" fill="#000" stroke="#000" stroke-width="0.35">1.22080</text>
<rect x="1166" y="413" width="2" height="1" fill="#000"/>
<text x="1171.58" y="416.82" font-size="9.67" textLength="31.75" lengthAdjust="spacingAndGlyphs" fill="#000" stroke="#000" stroke-width="0.35">1.21340</text>
<rect x="1166" y="446" width="2" height="1" fill="#000"/>
<rect x="1166" y="479" width="2" height="1" fill="#000"/>
<text x="1171.58" y="482.82" font-size="9.67" textLength="31.75" lengthAdjust="spacingAndGlyphs" fill="#000" stroke="#000" stroke-width="0.35">1.19880</text>
<rect x="1167" y="77" width="38" height="11" fill="#ff0000"/>
<text x="1171.45" y="85.95" font-size="10.03" textLength="32.00" lengthAdjust="spacingAndGlyphs" fill="#fff" stroke="#fff" stroke-width="0.1">1.28700</text>
<rect x="1167" y="167" width="38" height="11" fill="#00ff00"/>
<text x="1171.45" y="175.95" font-size="10.03" textLength="32.00" lengthAdjust="spacingAndGlyphs" fill="#fff" stroke="#fff" stroke-width="0.1">1.26700</text>
<rect x="1167" y="178" width="38" height="11" fill="#000000"/>
<text x="1171.45" y="186.95" font-size="10.03" textLength="32.00" lengthAdjust="spacingAndGlyphs" fill="#fff" stroke="#fff" stroke-width="0.1">1.26464</text>
<rect x="1167" y="243" width="38" height="11" fill="#0000ff"/>
<text x="1171.45" y="251.95" font-size="10.03" textLength="32.00" lengthAdjust="spacingAndGlyphs" fill="#fff" stroke="#fff" stroke-width="0.1">1.25003</text>
<rect x="1167" y="333" width="38" height="11" fill="#0000ff"/>
<text x="1171.45" y="341.95" font-size="10.03" textLength="32.00" lengthAdjust="spacingAndGlyphs" fill="#fff" stroke="#fff" stroke-width="0.1">1.23003</text>
<rect x="1167" y="440" width="38" height="11" fill="#0000ff"/>
<text x="1171.45" y="448.95" font-size="10.03" textLength="32.00" lengthAdjust="spacingAndGlyphs" fill="#fff" stroke="#fff" stroke-width="0.1">1.20609</text>
<rect x="1166" y="486" width="2" height="1" fill="#000"/>
<rect x="1166" y="526" width="2" height="1" fill="#000"/>
<rect x="1166" y="567" width="2" height="1" fill="#000"/>
<rect x="1166" y="572" width="2" height="1" fill="#000"/>
<text x="1169.67" y="494.82" font-size="9.67" textLength="31.15" lengthAdjust="spacingAndGlyphs" fill="#000" stroke="#000" stroke-width="0.35">0.01135</text>
<text x="1169.67" y="529.83" font-size="9.67" textLength="17.15" lengthAdjust="spacingAndGlyphs" fill="#000" stroke="#000" stroke-width="0.35">0.00</text>
<text x="1169.67" y="563.83" font-size="9.67" textLength="38.15" lengthAdjust="spacingAndGlyphs" fill="#000" stroke="#000" stroke-width="0.35">-0.01190</text>
<text x="1169.67" y="581.83" font-size="9.67" textLength="14.15" lengthAdjust="spacingAndGlyphs" fill="#000" stroke="#000" stroke-width="0.35">100</text>
<text x="1169.67" y="600.83" font-size="9.67" textLength="10.15" lengthAdjust="spacingAndGlyphs" fill="#000" stroke="#000" stroke-width="0.35">70</text>
<text x="1169.67" y="634.83" font-size="9.67" textLength="10.15" lengthAdjust="spacingAndGlyphs" fill="#000" stroke="#000" stroke-width="0.35">30</text>
<text x="1169.67" y="654.83" font-size="9.67" textLength="5.15" lengthAdjust="spacingAndGlyphs" fill="#000" stroke="#000" stroke-width="0.35">0</text>
<rect x="3" y="658" width="1" height="3" fill="#000"/>
<text x="2.67" y="669.83" font-size="9.67" textLength="51.31" lengthAdjust="spacingAndGlyphs" fill="#000" stroke="#000" stroke-width="0.35">11 Dec 2020</text>
<rect x="67" y="658" width="1" height="3" fill="#000"/>
<text x="66.67" y="669.83" font-size="9.67" textLength="52.00" lengthAdjust="spacingAndGlyphs" fill="#000" stroke="#000" stroke-width="0.35">31 Dec 2020</text>
<rect x="131" y="658" width="1" height="3" fill="#000"/>
<text x="130.68" y="669.83" font-size="9.67" textLength="50.46" lengthAdjust="spacingAndGlyphs" fill="#000" stroke="#000" stroke-width="0.35">20 Jan 2021</text>
<rect x="195" y="658" width="1" height="3" fill="#000"/>
<text x="194.68" y="669.83" font-size="9.67" textLength="46.35" lengthAdjust="spacingAndGlyphs" fill="#000" stroke="#000" stroke-width="0.35">8 Feb 2021</text>
<rect x="259" y="658" width="1" height="3" fill="#000"/>
<text x="258.68" y="669.83" font-size="9.67" textLength="51.49" lengthAdjust="spacingAndGlyphs" fill="#000" stroke="#000" stroke-width="0.35">26 Feb 2021</text>
<rect x="323" y="658" width="1" height="3" fill="#000"/>
<text x="322.68" y="669.83" font-size="9.67" textLength="51.48" lengthAdjust="spacingAndGlyphs" fill="#000" stroke="#000" stroke-width="0.35">17 Mar 2021</text>
<rect x="387" y="658" width="1" height="3" fill="#000"/>
<text x="386.68" y="669.83" font-size="9.67" textLength="44.31" lengthAdjust="spacingAndGlyphs" fill="#000" stroke="#000" stroke-width="0.35">5 Apr 2021</text>
<rect x="451" y="658" width="1" height="3" fill="#000"/>
<text x="450.68" y="669.83" font-size="9.67" textLength="49.43" lengthAdjust="spacingAndGlyphs" fill="#000" stroke="#000" stroke-width="0.35">23 Apr 2021</text>
<rect x="515" y="658" width="1" height="3" fill="#000"/>
<text x="514.67" y="669.83" font-size="9.67" textLength="53.02" lengthAdjust="spacingAndGlyphs" fill="#000" stroke="#000" stroke-width="0.35">12 May 2021</text>
<rect x="579" y="658" width="1" height="3" fill="#000"/>
<text x="578.67" y="669.83" font-size="9.67" textLength="53.02" lengthAdjust="spacingAndGlyphs" fill="#000" stroke="#000" stroke-width="0.35">31 May 2021</text>
<rect x="643" y="658" width="1" height="3" fill="#000"/>
<text x="642.67" y="669.83" font-size="9.67" textLength="50.46" lengthAdjust="spacingAndGlyphs" fill="#000" stroke="#000" stroke-width="0.35">18 Jun 2021</text>
<rect x="707" y="658" width="1" height="3" fill="#000"/>
<text x="706.67" y="669.83" font-size="9.67" textLength="42.25" lengthAdjust="spacingAndGlyphs" fill="#000" stroke="#000" stroke-width="0.35">7 Jul 2021</text>
<rect x="771" y="658" width="1" height="3" fill="#000"/>
<text x="770.67" y="669.83" font-size="9.67" textLength="47.38" lengthAdjust="spacingAndGlyphs" fill="#000" stroke="#000" stroke-width="0.35">26 Jul 2021</text>
<rect x="835" y="658" width="1" height="3" fill="#000"/>
<text x="834.67" y="669.83" font-size="9.67" textLength="51.50" lengthAdjust="spacingAndGlyphs" fill="#000" stroke="#000" stroke-width="0.35">13 Aug 2021</text>
<rect x="899" y="658" width="1" height="3" fill="#000"/>
<text x="898.67" y="669.83" font-size="9.67" textLength="46.87" lengthAdjust="spacingAndGlyphs" fill="#000" stroke="#000" stroke-width="0.35">1 Sep 2021</text>
<text x="19.07" y="33.83" font-size="9.67" textLength="64.45" lengthAdjust="spacingAndGlyphs" fill="#000" stroke="#000" stroke-width="0.35">USDCAD,Daily</text>
<text x="90.77" y="33.83" font-size="9.67" textLength="31.95" lengthAdjust="spacingAndGlyphs" fill="#000" stroke="#000" stroke-width="0.35">1.26229</text>
<text x="126.67" y="33.83" font-size="9.67" textLength="31.95" lengthAdjust="spacingAndGlyphs" fill="#000" stroke="#000" stroke-width="0.35">1.26549</text>
<text x="162.58" y="33.83" font-size="9.67" textLength="31.85" lengthAdjust="spacingAndGlyphs" fill="#000" stroke="#000" stroke-width="0.35">1.26178</text>
<text x="198.38" y="33.83" font-size="9.67" textLength="32.55" lengthAdjust="spacingAndGlyphs" fill="#000" stroke="#000" stroke-width="0.35">1.26464</text>
<polygon points="6,32.5 9.5,28.5 13,32.5" fill="#000"/>
<text x="8.18" y="496.82" font-size="9.67" textLength="146.35" lengthAdjust="spacingAndGlyphs" fill="#000" stroke="#000" stroke-width="0.35">MACD(12,26,9) 0.000150 0.000928</text>
<text x="7.47" y="582.83" font-size="9.67" textLength="66.75" lengthAdjust="spacingAndGlyphs" fill="#000" stroke="#000" stroke-width="0.35">RSI(14) 55.1492</text>
<g shape-rendering="crispEdges">
<rect x="5" y="41" width="222" height="60" fill="#ffffff"/>
<path d="M6,42 H58 V66 H115 V99 H6 Z" fill="#a80000"/>
<rect x="7" y="43" width="50" height="23" fill="url(#tabg)"/>
<rect x="7" y="67" width="107" height="31" fill="url(#prg)"/>
<rect x="7" y="66" width="50" height="1" fill="#da3434"/>
<rect x="10" y="65" width="44" height="1" fill="#7a0000"/>
<rect x="10" y="66" width="44" height="1" fill="#f06666"/>
<path d="M173,42 H225 V99 H117 V66 H173 Z" fill="#a80000"/>
<rect x="174" y="43" width="50" height="23" fill="url(#tabg)"/>
<rect x="118" y="67" width="106" height="31" fill="url(#prg)"/>
<rect x="174" y="66" width="50" height="1" fill="#da3434"/>
<rect x="177" y="65" width="44" height="1" fill="#7a0000"/>
<rect x="177" y="66" width="44" height="1" fill="#f06666"/>
<rect x="60" y="42" width="111" height="22" fill="#a9adb2"/>
<rect x="61" y="43" width="109" height="20" fill="#ffffff"/>
<rect x="62" y="44" width="18" height="18" fill="url(#btg)"/>
<rect x="151" y="44" width="18" height="18" fill="url(#btg)"/>
<rect x="81" y="43" width="1" height="20" fill="#a9adb2"/>
<rect x="149" y="43" width="1" height="20" fill="#a9adb2"/>
</g>
<polygon points="68,51 73,51 70.5,54" fill="#4a5cc0"/>
<polygon points="157,54 162,54 159.5,51.5" fill="#4a5cc0"/>
<text x="18.00" y="58.00" font-size="13.08" textLength="26.00" lengthAdjust="spacingAndGlyphs" fill="#fff6f0">SELL</text>
<text x="186.70" y="58.00" font-size="13.08" textLength="22.90" lengthAdjust="spacingAndGlyphs" fill="#fff6f0">BUY</text>
<text x="122.55" y="56.95" font-size="12.94" textLength="23.10" lengthAdjust="spacingAndGlyphs" fill="#000" stroke="#000" stroke-width="0.1">3.00</text>
<text x="27.00" y="93.90" font-size="12.06" textLength="22.20" lengthAdjust="spacingAndGlyphs" fill="#fff" font-weight="bold" stroke="#fff" stroke-width="0.2">1.26</text>
<text x="136.50" y="93.90" font-size="12.06" textLength="22.70" lengthAdjust="spacingAndGlyphs" fill="#fff" font-weight="bold" stroke="#fff" stroke-width="0.2">1.26</text>
<text x="53.00" y="94.00" font-size="34.88" textLength="35.01" lengthAdjust="spacingAndGlyphs" fill="#fff" stroke="#c41c1c" stroke-width="0.5">46</text>
<text x="164.30" y="94.00" font-size="34.88" textLength="33.31" lengthAdjust="spacingAndGlyphs" fill="#fff" stroke="#c41c1c" stroke-width="0.5">47</text>
<text x="92.80" y="78.00" font-size="12.35" textLength="6.70" lengthAdjust="spacingAndGlyphs" fill="#fff">7</text>
<text x="203.60" y="78.00" font-size="12.35" textLength="7.50" lengthAdjust="spacingAndGlyphs" fill="#fff">4</text>
<rect x="0" y="678" width="1205" height="1" fill="#e3e3e3"/>
<rect x="0" y="679" width="1205" height="1" fill="#f4f4f4"/>
<rect x="0" y="680" width="1205" height="1" fill="#000000"/>
<rect x="0" y="681" width="1205" height="19" fill="#f0f0f0"/>
<rect x="0" y="681" width="1205" height="1" fill="#fafafa"/>
<rect x="0" y="700" width="1205" height="1" fill="#ffffff"/>
<rect x="0" y="701" width="1205" height="3" fill="#f0f0f0"/>
<rect x="0" y="704" width="1205" height="1" fill="#a0a0a0"/>
<rect x="0" y="705" width="1205" height="3" fill="#ffffff"/>
<rect x="109" y="705" width="1" height="3" fill="#e4e4e4"/>
<rect x="194" y="705" width="1" height="3" fill="#e4e4e4"/>
<rect x="301" y="705" width="1" height="3" fill="#e4e4e4"/>
<rect x="422" y="705" width="1" height="3" fill="#e4e4e4"/>
<rect x="541" y="705" width="1" height="3" fill="#e4e4e4"/>
<rect x="661" y="705" width="1" height="3" fill="#e4e4e4"/>
<rect x="781" y="705" width="1" height="3" fill="#e4e4e4"/>
<rect x="901" y="705" width="1" height="3" fill="#e4e4e4"/>
<rect x="1021" y="705" width="1" height="3" fill="#e4e4e4"/>
<rect x="288" y="680" width="104" height="19" fill="#000"/>
<rect x="289" y="680" width="102" height="18" fill="#ffffff"/>
<text x="16.40" y="694.90" font-size="12.79" textLength="67.50" lengthAdjust="spacingAndGlyphs" fill="#6e6e6e" stroke="#6e6e6e" stroke-width="0.2">EURUSD,H4</text>
<text x="107.10" y="694.90" font-size="12.79" textLength="81.60" lengthAdjust="spacingAndGlyphs" fill="#6e6e6e" stroke="#6e6e6e" stroke-width="0.2">AUDUSD,Daily</text>
<text x="210.50" y="694.90" font-size="12.79" textLength="66.20" lengthAdjust="spacingAndGlyphs" fill="#6e6e6e" stroke="#6e6e6e" stroke-width="0.2">USDCHF,H4</text>
<text x="402.40" y="694.90" font-size="12.79" textLength="82.70" lengthAdjust="spacingAndGlyphs" fill="#6e6e6e" stroke="#6e6e6e" stroke-width="0.2">USDCNH,Daily</text>
<text x="508.40" y="694.90" font-size="12.79" textLength="50.69" lengthAdjust="spacingAndGlyphs" fill="#6e6e6e" stroke="#6e6e6e" stroke-width="0.2">UKOil,H1</text>
<text x="582.80" y="694.90" font-size="12.79" textLength="45.10" lengthAdjust="spacingAndGlyphs" fill="#6e6e6e" stroke="#6e6e6e" stroke-width="0.2">DJ30,H1</text>
<text x="652.40" y="694.90" font-size="12.79" textLength="51.39" lengthAdjust="spacingAndGlyphs" fill="#6e6e6e" stroke="#6e6e6e" stroke-width="0.2">USDX,H1</text>
<text x="727.10" y="694.90" font-size="12.79" textLength="68.50" lengthAdjust="spacingAndGlyphs" fill="#6e6e6e" stroke="#6e6e6e" stroke-width="0.2">XAUUSD,H4</text>
<text x="820.50" y="694.90" font-size="12.79" textLength="67.00" lengthAdjust="spacingAndGlyphs" fill="#6e6e6e" stroke="#6e6e6e" stroke-width="0.2">GBPUSD,H1</text>
<text x="299.30" y="694.90" font-size="12.79" textLength="80.60" lengthAdjust="spacingAndGlyphs" fill="#000" stroke="#000" stroke-width="0.2">USDCAD,Daily</text>
<rect x="96" y="683" width="1" height="14" fill="#5a5a5a"/>
<rect x="200" y="683" width="1" height="14" fill="#5a5a5a"/>
<rect x="496" y="683" width="1" height="14" fill="#5a5a5a"/>
<rect x="572" y="683" width="1" height="14" fill="#5a5a5a"/>
<rect x="640" y="683" width="1" height="14" fill="#5a5a5a"/>
<rect x="716" y="683" width="1" height="14" fill="#5a5a5a"/>
<rect x="808" y="683" width="1" height="14" fill="#5a5a5a"/>
<rect x="900" y="683" width="1" height="14" fill="#5a5a5a"/>
<polygon points="1180.5,688.5 1184,685.5 1184,691.5" fill="#909090"/>
<polygon points="1203,688.5 1199.5,685.5 1199.5,691.5" fill="#909090"/>
</svg>
</body></html>
